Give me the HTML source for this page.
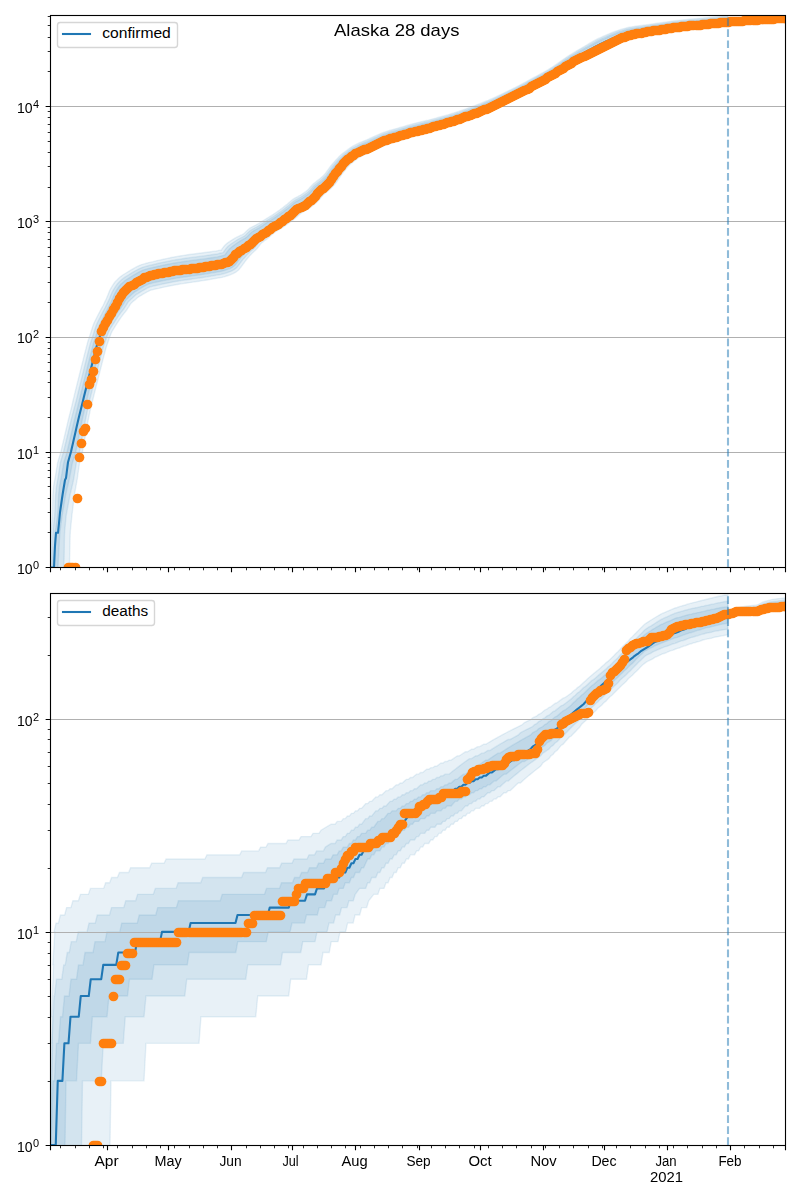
<!DOCTYPE html>
<html lang="en"><head><meta charset="utf-8"><title>Alaska 28 days</title>
<style>html,body{margin:0;padding:0;background:#fff}body{width:800px;height:1200px;overflow:hidden}svg{display:block}text{font-family:"Liberation Sans",sans-serif;fill:#000}</style></head><body>
<svg width="800" height="1200" viewBox="0 0 800 1200">
<defs><filter id="gs" x="0" y="0" width="800" height="1200" filterUnits="userSpaceOnUse" color-interpolation-filters="sRGB"><feColorMatrix type="saturate" values="0"/></filter><clipPath id="c1"><rect x="50" y="15" width="735" height="552"/></clipPath><clipPath id="c2"><rect x="50" y="593" width="735" height="552"/></clipPath></defs>
<rect width="800" height="1200" fill="#fff"/>
<path d="M50.5,585 L51.04,567 L51.04,563 L51.05,559 L51.05,555 L51.05,551 L51.06,547 L51.06,543 L51.07,539 L51.07,535 L51.21,531 L51.52,527 L51.83,523 L52.14,519 L52.46,515 L52.57,511 L52.65,507 L52.73,503 L52.81,499 L52.88,495 L53.19,491 L53.5,487 L54.1,483 L54.93,479 L55.59,475 L56.24,471 L56.9,467 L57.56,463 L58.69,459 L59.92,455 L61.05,451 L61.99,447 L62.92,443 L63.86,439 L64.8,435 L65.73,431 L66.67,427 L67.61,423 L68.55,419 L69.57,415 L70.6,411 L71.62,407 L73.24,399.75 L73.71,397.82 L74.18,395.88 L74.65,393.93 L75.13,391.98 L75.6,390.03 L76.09,388.08 L76.57,386.13 L77.05,384.19 L77.54,382.24 L78.02,380.3 L78.5,378.36 L78.98,376.42 L79.47,374.48 L79.95,372.54 L80.43,370.59 L80.92,368.65 L81.4,366.71 L81.88,364.76 L82.37,362.82 L82.86,360.88 L83.34,358.93 L83.83,356.99 L84.32,355.04 L84.81,353.08 L85.31,351.13 L85.82,349.17 L86.33,347.17 L86.86,345.15 L87.39,343.1 L88,341.05 L88.67,339.05 L89.32,337.08 L89.96,335.13 L90.6,333.21 L91.22,331.25 L91.86,329.23 L92.53,327.12 L93.28,324.97 L94.14,322.8 L95.12,320.72 L96.14,318.72 L97.12,316.8 L98.08,314.93 L99.04,313.1 L99.99,311.27 L100.95,309.42 L101.97,307.6 L102.98,305.79 L103.85,303.94 L104.69,302.12 L105.53,300.41 L106.31,298.75 L107.01,296.99 L107.77,295.14 L108.56,293.14 L109.47,290.95 L110.67,288.71 L111.98,286.46 L113.38,284.23 L114.92,282.05 L116.74,280.13 L118.64,278.3 L120.64,276.57 L122.72,275.02 L124.82,273.76 L126.79,272.53 L128.68,271.32 L130.57,270.19 L132.53,269.07 L134.61,267.92 L136.8,266.73 L139.11,265.58 L141.56,264.6 L144.03,263.89 L146.4,263.23 L148.67,262.61 L150.87,262.14 L152.99,261.66 L155.07,261.13 L157.14,260.6 L159.19,260.14 L161.22,259.7 L163.23,259.27 L165.22,258.83 L167.22,258.4 L169.25,257.96 L171.31,257.52 L173.39,257.11 L175.48,256.74 L177.54,256.4 L179.58,256.06 L181.57,255.73 L183.55,255.4 L185.52,255.07 L187.48,254.74 L189.46,254.47 L191.43,254.23 L193.42,253.99 L195.39,253.76 L197.36,253.52 L199.31,253.29 L201.24,253.06 L203.16,252.81 L205.07,252.54 L207,252.26 L208.94,251.98 L210.87,251.7 L212.72,251.43 L214.49,251.17 L216.17,250.94 L217.67,250.66 L218.96,250.34 L219.97,250.15 L220.69,250.15 L221.13,250.19 L221.48,249.94 L221.82,249.19 L222.62,248.06 L223.8,246.53 L225.36,244.77 L227.31,243.12 L229.41,241.69 L231.45,240.36 L233.41,239.1 L235.35,237.92 L237.26,236.9 L239.08,236.02 L240.76,235.24 L242.35,234.54 L243.77,233.71 L245.05,232.43 L246.53,230.98 L248.24,229.43 L250.21,227.94 L252.35,226.8 L254.35,225.78 L256.19,224.86 L257.87,223.96 L259.47,222.99 L261.11,221.95 L262.82,220.86 L264.6,219.72 L266.42,218.57 L268.23,217.47 L269.98,216.41 L271.68,215.38 L273.31,214.35 L274.88,213.29 L276.44,212.2 L278,211.12 L279.56,210.03 L281.1,208.9 L282.61,207.74 L284.11,206.58 L285.61,205.42 L287.13,204.22 L288.67,202.89 L290.28,201.47 L292,200.01 L293.86,198.65 L295.85,197.62 L297.69,196.64 L299.42,195.74 L300.99,194.82 L302.43,193.87 L303.84,192.89 L305.22,191.94 L306.52,190.9 L307.77,189.73 L309.03,188.43 L310.34,186.96 L311.75,185.38 L313.31,183.8 L315.06,182.44 L316.76,181.14 L318.37,179.92 L319.86,178.74 L321.22,177.59 L322.49,176.42 L323.75,175.28 L324.91,174.08 L325.91,172.66 L326.99,171.16 L328.12,169.59 L329.31,167.93 L330.56,166.21 L331.94,164.57 L333.33,162.95 L334.73,161.34 L336.17,159.76 L337.64,158.18 L339.16,156.58 L340.78,155.06 L342.47,153.61 L344.21,152.25 L345.98,150.94 L347.74,149.64 L349.5,148.34 L351.33,147.1 L353.25,145.96 L355.22,144.94 L357.17,143.94 L359.1,142.96 L361.06,142.14 L362.97,141.36 L364.84,140.61 L366.66,139.87 L368.43,139.09 L370.2,138.25 L372,137.4 L373.83,136.55 L375.69,135.7 L377.61,134.88 L379.53,134.06 L381.48,133.24 L383.46,132.48 L385.47,131.81 L387.47,131.15 L389.47,130.49 L391.46,129.91 L393.43,129.37 L395.38,128.84 L397.3,128.31 L399.2,127.77 L401.1,127.21 L403.01,126.64 L404.93,126.08 L406.87,125.51 L408.82,124.96 L410.78,124.41 L412.75,123.86 L414.73,123.34 L416.71,122.85 L418.68,122.36 L420.65,121.87 L422.61,121.42 L424.55,120.96 L426.49,120.51 L428.41,120.07 L430.31,119.57 L432.21,119.07 L434.13,118.56 L436.04,118.06 L437.96,117.54 L439.88,117.03 L441.79,116.51 L443.69,115.99 L445.59,115.44 L447.48,114.9 L449.37,114.35 L451.25,113.78 L453.13,113.19 L455,112.6 L456.87,112.01 L458.73,111.41 L460.58,110.76 L462.44,110.12 L464.29,109.47 L466.14,108.81 L467.99,108.11 L469.85,107.41 L471.71,106.71 L473.58,106.01 L475.44,105.31 L477.3,104.62 L479.15,103.92 L480.99,103.21 L482.82,102.47 L484.64,101.74 L486.46,101.01 L488.27,100.27 L490.06,99.48 L491.86,98.68 L493.65,97.89 L495.44,97.08 L497.23,96.24 L499.01,95.39 L500.8,94.53 L502.59,93.67 L504.38,92.81 L506.18,91.94 L507.96,91.07 L509.75,90.2 L511.53,89.31 L513.3,88.43 L515.07,87.55 L516.84,86.67 L518.59,85.76 L520.33,84.83 L522.07,83.91 L523.82,82.98 L525.57,82.04 L527.31,81.08 L529.05,80.11 L530.81,79.14 L532.57,78.18 L534.34,77.22 L536.1,76.28 L537.87,75.33 L539.62,74.39 L541.36,73.44 L543.09,72.49 L544.81,71.55 L546.51,70.62 L548.18,69.64 L549.81,68.6 L551.44,67.55 L553.09,66.5 L554.74,65.43 L556.37,64.33 L558,63.19 L559.62,62.01 L561.25,60.81 L562.92,59.63 L564.61,58.47 L566.31,57.3 L568.04,56.17 L569.79,55.09 L571.53,54.02 L573.27,52.96 L574.99,51.9 L576.73,50.87 L578.46,49.83 L580.19,48.8 L581.93,47.78 L583.67,46.76 L585.41,45.75 L587.15,44.73 L588.89,43.72 L590.64,42.72 L592.41,41.71 L594.19,40.71 L595.98,39.69 L597.81,38.72 L599.7,37.88 L601.58,37.05 L603.45,36.23 L605.31,35.41 L607.17,34.61 L609.06,33.81 L610.96,33 L612.89,32.21 L614.85,31.49 L616.84,30.79 L618.82,30.1 L620.83,29.44 L622.87,28.87 L624.92,28.33 L626.98,27.79 L629.05,27.28 L631.14,26.95 L633.22,26.62 L635.28,26.3 L637.32,26.01 L639.34,25.77 L641.34,25.54 L643.32,25.31 L645.29,25.04 L647.25,24.73 L649.22,24.42 L651.2,24.11 L653.18,23.82 L655.17,23.52 L657.17,23.22 L659.16,22.93 L661.16,22.66 L663.15,22.4 L665.14,22.13 L667.12,21.87 L669.1,21.59 L671.1,21.31 L673.1,21.03 L675.1,20.78 L677.11,20.55 L679.12,20.32 L681.12,20.09 L683.12,19.87 L685.12,19.65 L687.12,19.43 L689.14,19.22 L691.15,19 L693.17,18.83 L695.17,18.67 L697.17,18.51 L699.15,18.35 L701.13,18.16 L703.11,17.96 L705.1,17.77 L707.1,17.57 L709.09,17.4 L711.08,17.22 L713.07,17.05 L715.04,16.87 L717.02,16.66 L719.01,16.45 L721,16.24 L723,16.04 L725,15.86 L727,15.67 L728,15.67 L728,25.63 L727.95,25.63 L725.97,25.82 L723.99,26 L722.01,26.2 L720.02,26.42 L718.03,26.64 L716.03,26.85 L714.02,27.04 L712.02,27.22 L710.03,27.4 L708.04,27.58 L706.05,27.77 L704.06,27.98 L702.06,28.18 L700.06,28.38 L698.06,28.54 L696.07,28.71 L694.09,28.87 L692.12,29.04 L690.16,29.26 L688.19,29.47 L686.22,29.69 L684.24,29.91 L682.27,30.14 L680.29,30.37 L678.33,30.59 L676.36,30.82 L674.4,31.08 L672.44,31.36 L670.47,31.64 L668.5,31.92 L666.52,32.19 L664.54,32.46 L662.56,32.72 L660.6,32.99 L658.64,33.29 L656.67,33.58 L654.71,33.88 L652.74,34.18 L650.77,34.49 L648.78,34.81 L646.79,35.13 L644.8,35.44 L642.83,35.75 L640.86,36.06 L638.92,36.36 L637.01,36.71 L635.13,37.08 L633.26,37.45 L631.42,37.81 L629.63,38.33 L627.84,38.88 L626.04,39.43 L624.25,40 L622.48,40.66 L620.71,41.35 L618.94,42.05 L617.18,42.77 L615.44,43.56 L613.68,44.38 L611.92,45.22 L610.14,46.06 L608.37,46.91 L606.6,47.77 L604.85,48.62 L603.11,49.46 L601.38,50.32 L599.65,51.18 L597.9,52.06 L596.14,52.94 L594.37,53.83 L592.6,54.74 L590.83,55.65 L589.06,56.55 L587.3,57.47 L585.54,58.39 L583.78,59.31 L582.02,60.23 L580.27,61.16 L578.53,62.1 L576.8,63.04 L575.08,63.98 L573.38,64.91 L571.71,65.89 L570.06,66.9 L568.4,67.92 L566.75,68.97 L565.1,70.06 L563.43,71.16 L561.76,72.29 L560.09,73.44 L558.4,74.57 L556.68,75.69 L554.96,76.82 L553.23,77.95 L551.46,79.01 L549.67,80.02 L547.89,81.03 L546.12,82.02 L544.37,83.01 L542.61,83.98 L540.85,84.95 L539.11,85.91 L537.37,86.88 L535.63,87.85 L533.89,88.84 L532.15,89.83 L530.4,90.82 L528.64,91.8 L526.86,92.77 L525.09,93.74 L523.31,94.71 L521.52,95.67 L519.71,96.59 L517.92,97.52 L516.12,98.44 L514.33,99.36 L512.53,100.26 L510.73,101.16 L508.93,102.06 L507.14,102.96 L505.33,103.85 L503.52,104.74 L501.71,105.64 L499.89,106.54 L498.05,107.4 L496.2,108.26 L494.35,109.12 L492.5,109.98 L490.63,110.79 L488.75,111.58 L486.87,112.38 L485,113.17 L483.13,113.94 L481.25,114.69 L479.37,115.43 L477.51,116.17 L475.64,116.91 L473.77,117.65 L471.9,118.4 L470.02,119.14 L468.12,119.86 L466.21,120.57 L464.3,121.28 L462.38,121.99 L460.45,122.65 L458.52,123.3 L456.59,123.95 L454.66,124.6 L452.73,125.22 L450.79,125.82 L448.85,126.43 L446.91,127.02 L444.96,127.6 L443.02,128.16 L441.09,128.72 L439.15,129.28 L437.21,129.84 L435.27,130.39 L433.31,130.94 L431.36,131.49 L429.39,131.99 L427.44,132.49 L425.49,132.98 L423.57,133.47 L421.66,133.98 L419.76,134.49 L417.87,135 L415.99,135.53 L414.11,136.09 L412.23,136.66 L410.35,137.24 L408.46,137.82 L406.55,138.43 L404.64,139.03 L402.71,139.64 L400.77,140.23 L398.85,140.78 L396.94,141.33 L395.06,141.86 L393.22,142.42 L391.42,143.04 L389.63,143.64 L387.86,144.26 L386.11,144.95 L384.38,145.71 L382.63,146.48 L380.87,147.25 L379.11,148.08 L377.32,148.94 L375.51,149.82 L373.67,150.71 L371.8,151.56 L369.92,152.35 L368.09,153.11 L366.3,153.86 L364.57,154.59 L362.96,155.45 L361.36,156.29 L359.77,157.12 L358.26,158.03 L356.8,159.06 L355.36,160.15 L353.92,161.24 L352.51,162.38 L351.15,163.54 L349.86,164.75 L348.62,166.02 L347.45,167.39 L346.25,168.79 L345.05,170.2 L343.88,171.66 L342.72,173.13 L341.57,174.59 L340.53,176.15 L339.44,177.78 L338.3,179.49 L337.09,181.27 L335.81,183.14 L334.29,184.88 L332.67,186.53 L331.07,188.14 L329.45,189.65 L327.86,191.03 L326.34,192.3 L324.91,193.49 L323.53,194.62 L322.36,195.94 L321.18,197.41 L319.88,198.98 L318.42,200.59 L316.81,202.23 L315.06,203.77 L313.23,205.2 L311.42,206.6 L309.58,207.94 L307.76,209.14 L306,210.19 L304.35,211.17 L302.77,211.94 L301.42,212.95 L300.11,214.09 L298.73,215.33 L297.25,216.62 L295.62,217.9 L293.96,219.18 L292.3,220.47 L290.64,221.75 L288.95,222.98 L287.24,224.18 L285.51,225.38 L283.78,226.58 L282.04,227.76 L280.29,228.86 L278.56,229.91 L276.9,230.92 L275.28,231.89 L273.81,232.99 L272.39,234.27 L270.91,235.59 L269.36,236.96 L267.73,238.34 L266.07,239.64 L264.49,240.79 L263.06,241.84 L261.78,242.76 L260.72,243.89 L259.67,245.22 L258.49,246.76 L257.12,248.48 L255.49,250.19 L253.81,251.8 L252.23,253.33 L250.77,254.76 L249.48,256.11 L248.32,257.47 L247.23,258.79 L246.21,260.05 L245.26,261.21 L244.44,262.44 L243.42,263.73 L242.22,265.41 L240.64,267.5 L238.6,269.95 L235.81,272.18 L232.65,273.86 L229.55,275.05 L226.73,276 L224.18,276.8 L221.78,277.39 L219.51,277.8 L217.34,278.18 L215.24,278.55 L213.21,278.91 L211.21,279.26 L209.19,279.62 L207.15,279.97 L205.11,280.29 L203.07,280.59 L201.06,280.89 L199.06,281.19 L197.07,281.49 L195.09,281.79 L193.11,282.09 L191.12,282.39 L189.13,282.68 L187.15,282.98 L185.17,283.28 L183.22,283.57 L181.3,283.86 L179.42,284.15 L177.57,284.44 L175.74,284.78 L173.88,285.15 L172,285.53 L170.08,285.92 L168.17,286.3 L166.26,286.68 L164.39,287.06 L162.54,287.44 L160.75,287.88 L158.97,288.31 L157.2,288.67 L155.52,288.99 L153.98,289.38 L152.54,289.73 L151.22,290.01 L150.02,290.45 L148.83,291.06 L147.55,291.74 L146.16,292.48 L144.65,293.32 L143.13,294.22 L141.65,295.14 L140.24,295.98 L138.88,296.69 L137.77,297.48 L136.78,298.33 L135.82,299.24 L134.79,300.09 L133.72,300.89 L132.69,301.81 L131.67,302.78 L130.67,303.83 L129.81,305.21 L128.83,306.79 L127.71,308.47 L126.54,310.26 L125.2,312 L123.86,313.64 L122.63,315.25 L121.43,316.82 L120.33,318.41 L119.24,319.98 L118.21,321.6 L117.16,323.23 L116.12,324.87 L115.09,326.47 L114.11,328.03 L113.15,329.52 L112.28,330.98 L111.55,332.49 L110.88,334.07 L110.25,335.75 L109.58,337.51 L108.9,339.34 L108.27,341.21 L107.64,343.06 L107.03,344.88 L106.42,346.67 L105.88,348.46 L105.4,350.28 L104.91,352.13 L104.42,354.01 L103.92,355.92 L103.42,357.84 L102.92,359.77 L102.43,361.69 L101.94,363.63 L101.45,365.56 L100.96,367.49 L100.46,369.43 L99.97,371.36 L99.48,373.3 L98.99,375.24 L98.5,377.18 L98.01,379.11 L97.52,381.05 L97.03,382.99 L96.54,384.93 L96.05,386.87 L95.56,388.81 L95.07,390.74 L94.58,392.67 L94.1,394.6 L93.62,396.54 L93.14,398.47 L92.66,400.41 L92.18,402.35 L91.69,404.3 L90.88,407 L90.06,411 L89.24,415 L88.42,419 L87.69,423 L86.97,427 L86.24,431 L85.51,435 L84.78,439 L84.05,443 L83.32,447 L82.59,451 L81.67,455 L80.54,459 L79.51,463 L78.95,467 L78.39,471 L77.84,475 L77.28,479 L76.55,483 L75.8,487 L75.09,491 L74.38,495 L73.91,499 L73.43,503 L72.95,507 L72.47,511 L71.96,515 L71.56,519 L71.16,523 L70.77,527 L70.37,531 L70.15,535 L70.06,539 L69.97,543 L69.88,547 L69.79,551 L69.7,555 L69.62,559 L69.53,563 L69.44,567 L70.5,585Z" fill="#1f77b4" fill-opacity=".1" stroke="#1f77b4" stroke-opacity=".1" stroke-width="1.39" stroke-linejoin="miter" clip-path="url(#c1)"/>
<path d="M51.4,585 L51.94,567 L52.05,563 L52.16,559 L52.26,555 L52.37,551 L52.48,547 L52.58,543 L52.69,539 L52.8,535 L53.05,531 L53.46,527 L53.88,523 L54.29,519 L54.71,515 L54.92,511 L55.1,507 L55.28,503 L55.46,499 L55.63,495 L56.04,491 L56.45,487 L57.07,483 L57.86,479 L58.47,475 L59.08,471 L59.69,467 L60.3,463 L61.38,459 L62.57,455 L63.72,451 L64.68,447 L65.63,443 L66.59,439 L67.55,435 L68.5,431 L69.46,427 L70.42,423 L71.38,419 L72.42,415 L73.47,411 L74.51,407 L76.24,400.5 L76.71,398.56 L77.18,396.61 L77.65,394.67 L78.12,392.72 L78.59,390.77 L79.07,388.82 L79.55,386.87 L80.03,384.93 L80.51,382.98 L80.98,381.04 L81.46,379.1 L81.94,377.16 L82.42,375.22 L82.9,373.27 L83.37,371.33 L83.85,369.39 L84.33,367.44 L84.81,365.5 L85.29,363.56 L85.78,361.61 L86.26,359.67 L86.74,357.72 L87.22,355.77 L87.71,353.83 L88.21,351.88 L88.7,349.92 L89.21,347.94 L89.72,345.94 L90.24,343.93 L90.84,341.92 L91.49,339.95 L92.13,337.99 L92.76,336.06 L93.39,334.14 L94,332.2 L94.62,330.2 L95.26,328.16 L95.98,326.08 L96.79,324 L97.73,321.99 L98.7,320.05 L99.65,318.16 L100.59,316.31 L101.52,314.49 L102.46,312.67 L103.4,310.83 L104.39,309.03 L105.38,307.22 L106.26,305.39 L107.13,303.59 L108,301.87 L108.83,300.18 L109.56,298.41 L110.34,296.56 L111.12,294.6 L112,292.49 L113.15,290.37 L114.39,288.25 L115.72,286.14 L117.16,284.08 L118.88,282.28 L120.67,280.54 L122.55,278.9 L124.51,277.43 L126.52,276.22 L128.43,275.02 L130.27,273.84 L132.11,272.71 L134.01,271.62 L136.01,270.51 L138.1,269.37 L140.29,268.26 L142.6,267.34 L144.94,266.66 L147.21,266.02 L149.4,265.42 L151.54,264.96 L153.62,264.49 L155.68,263.99 L157.72,263.48 L159.75,263.04 L161.77,262.62 L163.77,262.21 L165.75,261.79 L167.75,261.38 L169.76,260.96 L171.8,260.53 L173.86,260.14 L175.92,259.8 L177.97,259.48 L179.99,259.16 L181.98,258.84 L183.96,258.53 L185.93,258.21 L187.9,257.9 L189.87,257.63 L191.85,257.39 L193.84,257.15 L195.81,256.9 L197.78,256.66 L199.74,256.42 L201.68,256.18 L203.62,255.93 L205.54,255.65 L207.48,255.36 L209.43,255.07 L211.37,254.78 L213.25,254.5 L215.07,254.23 L216.82,253.99 L218.42,253.67 L219.85,253.29 L221.07,253.02 L222.07,252.88 L222.82,252.72 L223.45,252.24 L223.99,251.29 L224.87,250.05 L226.06,248.51 L227.56,246.8 L229.37,245.2 L231.35,243.8 L233.26,242.48 L235.12,241.22 L236.97,240.01 L238.82,238.95 L240.59,238.01 L242.26,237.14 L243.86,236.34 L245.31,235.41 L246.6,234.08 L248.04,232.62 L249.68,231.09 L251.54,229.65 L253.58,228.53 L255.52,227.5 L257.33,226.56 L259,225.61 L260.61,224.6 L262.24,223.52 L263.92,222.4 L265.66,221.24 L267.44,220.1 L269.23,219.02 L270.97,217.96 L272.67,216.93 L274.31,215.9 L275.9,214.81 L277.48,213.72 L279.06,212.62 L280.64,211.52 L282.2,210.38 L283.72,209.2 L285.24,208.03 L286.76,206.85 L288.3,205.65 L289.83,204.32 L291.41,202.92 L293.09,201.5 L294.89,200.18 L296.82,199.18 L298.65,198.2 L300.38,197.28 L301.98,196.33 L303.46,195.33 L304.92,194.31 L306.35,193.3 L307.71,192.2 L308.99,190.98 L310.28,189.64 L311.59,188.16 L312.97,186.59 L314.48,185.04 L316.2,183.71 L317.86,182.43 L319.46,181.2 L320.96,180 L322.35,178.81 L323.66,177.58 L324.96,176.38 L326.16,175.12 L327.2,173.65 L328.29,172.12 L329.42,170.53 L330.6,168.87 L331.83,167.17 L333.18,165.56 L334.54,163.95 L335.91,162.36 L337.33,160.8 L338.77,159.24 L340.25,157.67 L341.82,156.17 L343.47,154.75 L345.16,153.41 L346.89,152.13 L348.61,150.85 L350.34,149.58 L352.13,148.36 L354,147.24 L355.93,146.25 L357.84,145.27 L359.73,144.29 L361.66,143.49 L363.56,142.72 L365.42,141.96 L367.25,141.22 L369.03,140.42 L370.81,139.58 L372.61,138.73 L374.43,137.87 L376.29,137.03 L378.19,136.22 L380.09,135.4 L382.01,134.59 L383.96,133.84 L385.95,133.17 L387.93,132.51 L389.9,131.87 L391.88,131.29 L393.84,130.75 L395.78,130.21 L397.7,129.68 L399.6,129.14 L401.51,128.57 L403.42,128 L405.34,127.43 L407.27,126.86 L409.21,126.31 L411.16,125.75 L413.12,125.2 L415.09,124.68 L417.06,124.19 L419.03,123.7 L420.99,123.21 L422.94,122.75 L424.89,122.29 L426.82,121.83 L428.74,121.38 L430.65,120.88 L432.57,120.37 L434.48,119.86 L436.4,119.35 L438.32,118.83 L440.24,118.31 L442.15,117.79 L444.06,117.25 L445.96,116.71 L447.86,116.15 L449.76,115.6 L451.64,115.03 L453.52,114.43 L455.4,113.83 L457.28,113.24 L459.15,112.63 L461.01,111.97 L462.87,111.32 L464.73,110.66 L466.59,110 L468.44,109.29 L470.3,108.59 L472.17,107.89 L474.03,107.18 L475.9,106.48 L477.76,105.77 L479.61,105.07 L481.45,104.35 L483.28,103.61 L485.11,102.87 L486.94,102.14 L488.76,101.39 L490.56,100.59 L492.36,99.78 L494.16,98.98 L495.96,98.17 L497.74,97.32 L499.53,96.47 L501.32,95.6 L503.11,94.74 L504.91,93.87 L506.7,93 L508.49,92.12 L510.28,91.25 L512.06,90.36 L513.83,89.47 L515.61,88.59 L517.38,87.7 L519.13,86.79 L520.88,85.86 L522.62,84.93 L524.37,83.99 L526.12,83.05 L527.86,82.08 L529.61,81.11 L531.36,80.14 L533.12,79.18 L534.89,78.22 L536.65,77.27 L538.41,76.33 L540.17,75.38 L541.91,74.42 L543.64,73.47 L545.37,72.52 L547.08,71.58 L548.76,70.6 L550.4,69.54 L552.05,68.49 L553.7,67.43 L555.35,66.35 L556.99,65.25 L558.62,64.1 L560.25,62.93 L561.88,61.75 L563.55,60.59 L565.24,59.44 L566.93,58.29 L568.66,57.17 L570.4,56.11 L572.14,55.06 L573.87,54.01 L575.6,52.97 L577.34,51.94 L579.07,50.92 L580.81,49.91 L582.55,48.89 L584.29,47.88 L586.03,46.88 L587.77,45.88 L589.52,44.88 L591.27,43.89 L593.04,42.9 L594.82,41.91 L596.6,40.91 L598.42,39.95 L600.29,39.11 L602.16,38.28 L604.01,37.46 L605.86,36.64 L607.72,35.83 L609.59,35.02 L611.47,34.21 L613.38,33.43 L615.32,32.7 L617.28,32.01 L619.24,31.32 L621.22,30.66 L623.23,30.09 L625.25,29.54 L627.28,29 L629.32,28.49 L631.39,28.15 L633.44,27.82 L635.48,27.5 L637.5,27.2 L639.51,26.96 L641.51,26.72 L643.49,26.48 L645.46,26.2 L647.43,25.89 L649.4,25.58 L651.37,25.27 L653.36,24.98 L655.35,24.68 L657.34,24.38 L659.33,24.08 L661.32,23.82 L663.31,23.55 L665.3,23.29 L667.28,23.02 L669.26,22.75 L671.25,22.47 L673.25,22.19 L675.25,21.93 L677.25,21.7 L679.26,21.48 L681.25,21.25 L683.25,21.02 L685.25,20.8 L687.25,20.59 L689.25,20.37 L691.26,20.16 L693.27,19.98 L695.28,19.82 L697.27,19.66 L699.26,19.5 L701.24,19.31 L703.22,19.11 L705.21,18.92 L707.21,18.72 L709.2,18.55 L711.19,18.37 L713.18,18.2 L715.16,18.02 L717.14,17.81 L719.12,17.6 L721.11,17.38 L723.11,17.19 L725.11,17 L727.11,16.82 L728,16.82 L728,24.48 L727.84,24.48 L725.86,24.67 L723.87,24.86 L721.89,25.05 L719.9,25.27 L717.91,25.49 L715.91,25.7 L713.91,25.89 L711.91,26.07 L709.92,26.25 L707.93,26.43 L705.94,26.62 L703.95,26.83 L701.96,27.03 L699.96,27.22 L697.96,27.39 L695.96,27.55 L693.98,27.72 L692.01,27.89 L690.04,28.1 L688.07,28.32 L686.09,28.54 L684.11,28.76 L682.13,28.99 L680.16,29.21 L678.19,29.44 L676.22,29.67 L674.25,29.92 L672.29,30.2 L670.32,30.48 L668.34,30.76 L666.36,31.03 L664.38,31.3 L662.4,31.56 L660.43,31.83 L658.47,32.13 L656.5,32.43 L654.53,32.72 L652.56,33.02 L650.59,33.34 L648.61,33.65 L646.62,33.97 L644.63,34.28 L642.65,34.58 L640.69,34.87 L638.73,35.17 L636.81,35.51 L634.91,35.88 L633.02,36.24 L631.15,36.59 L629.33,37.12 L627.5,37.67 L625.68,38.21 L623.86,38.79 L622.06,39.45 L620.27,40.14 L618.47,40.83 L616.69,41.56 L614.92,42.34 L613.15,43.17 L611.37,44 L609.58,44.83 L607.8,45.68 L606.02,46.54 L604.26,47.38 L602.5,48.22 L600.76,49.09 L599.02,49.98 L597.27,50.87 L595.5,51.76 L593.74,52.67 L591.97,53.59 L590.21,54.51 L588.44,55.43 L586.68,56.35 L584.92,57.29 L583.17,58.22 L581.41,59.16 L579.66,60.1 L577.93,61.05 L576.2,62.01 L574.48,62.96 L572.76,63.91 L571.09,64.9 L569.43,65.93 L567.77,66.97 L566.12,68.03 L564.47,69.13 L562.8,70.24 L561.14,71.38 L559.48,72.52 L557.79,73.64 L556.08,74.76 L554.37,75.87 L552.65,76.99 L550.89,78.05 L549.11,79.05 L547.34,80.04 L545.57,81.04 L543.82,82.02 L542.06,82.99 L540.31,83.95 L538.56,84.91 L536.81,85.88 L535.08,86.85 L533.34,87.83 L531.6,88.82 L529.85,89.81 L528.08,90.78 L526.31,91.75 L524.54,92.72 L522.77,93.68 L520.98,94.63 L519.18,95.55 L517.39,96.47 L515.59,97.39 L513.8,98.31 L512,99.2 L510.21,100.1 L508.41,100.99 L506.61,101.89 L504.81,102.78 L503.01,103.67 L501.2,104.56 L499.38,105.45 L497.55,106.31 L495.7,107.16 L493.86,108.01 L492.01,108.86 L490.15,109.67 L488.28,110.45 L486.41,111.24 L484.54,112.02 L482.67,112.79 L480.79,113.53 L478.92,114.26 L477.06,115 L475.19,115.74 L473.32,116.47 L471.45,117.21 L469.57,117.95 L467.68,118.67 L465.78,119.37 L463.87,120.07 L461.96,120.77 L460.04,121.43 L458.12,122.07 L456.19,122.71 L454.27,123.35 L452.34,123.97 L450.41,124.57 L448.47,125.16 L446.54,125.75 L444.6,126.32 L442.66,126.88 L440.73,127.44 L438.79,127.99 L436.86,128.54 L434.92,129.09 L432.97,129.63 L431.02,130.18 L429.06,130.67 L427.1,131.16 L425.16,131.65 L423.23,132.14 L421.32,132.64 L419.41,133.15 L417.51,133.65 L415.62,134.19 L413.73,134.75 L411.84,135.32 L409.95,135.89 L408.05,136.47 L406.14,137.07 L404.23,137.67 L402.31,138.28 L400.37,138.86 L398.45,139.41 L396.54,139.95 L394.64,140.49 L392.79,141.05 L390.96,141.67 L389.15,142.28 L387.35,142.91 L385.58,143.6 L383.82,144.37 L382.05,145.15 L380.28,145.92 L378.5,146.75 L376.71,147.61 L374.9,148.49 L373.07,149.37 L371.21,150.22 L369.34,151 L367.5,151.76 L365.7,152.51 L363.94,153.25 L362.29,154.13 L360.65,154.99 L359.02,155.83 L357.47,156.77 L355.96,157.83 L354.49,158.94 L353,160.06 L351.56,161.21 L350.15,162.4 L348.82,163.64 L347.53,164.94 L346.32,166.33 L345.09,167.75 L343.86,169.19 L342.67,170.66 L341.48,172.14 L340.31,173.63 L339.24,175.2 L338.14,176.84 L337,178.53 L335.8,180.28 L334.56,182.1 L333.07,183.78 L331.5,185.36 L329.94,186.92 L328.34,188.39 L326.77,189.75 L325.24,191.01 L323.77,192.22 L322.36,193.38 L321.14,194.73 L319.93,196.21 L318.63,197.77 L317.2,199.35 L315.63,200.92 L313.93,202.41 L312.15,203.79 L310.39,205.14 L308.6,206.43 L306.8,207.6 L305.04,208.63 L303.38,209.61 L301.74,210.41 L300.34,211.46 L298.98,212.64 L297.57,213.9 L296.09,215.19 L294.47,216.46 L292.83,217.73 L291.18,219.01 L289.54,220.27 L287.87,221.49 L286.17,222.68 L284.47,223.86 L282.76,225.05 L281.04,226.22 L279.3,227.31 L277.58,228.36 L275.9,229.37 L274.26,230.36 L272.75,231.47 L271.29,232.73 L269.79,234.02 L268.23,235.35 L266.6,236.69 L264.93,237.94 L263.32,239.07 L261.83,240.11 L260.45,241.06 L259.29,242.23 L258.16,243.58 L256.95,245.11 L255.59,246.78 L253.98,248.39 L252.31,249.9 L250.71,251.34 L249.22,252.7 L247.85,254.02 L246.61,255.35 L245.41,256.67 L244.28,257.94 L243.19,259.13 L242.25,260.41 L241.16,261.75 L239.96,263.41 L238.47,265.39 L236.63,267.65 L234.12,269.65 L231.27,271.14 L228.45,272.19 L225.83,273.05 L223.43,273.79 L221.14,274.35 L218.93,274.73 L216.81,275.1 L214.74,275.46 L212.72,275.81 L210.72,276.15 L208.71,276.5 L206.69,276.84 L204.66,277.15 L202.64,277.45 L200.63,277.74 L198.64,278.03 L196.65,278.32 L194.67,278.61 L192.68,278.9 L190.7,279.19 L188.71,279.48 L186.73,279.77 L184.75,280.06 L182.79,280.34 L180.86,280.62 L178.95,280.9 L177.07,281.19 L175.21,281.52 L173.33,281.89 L171.42,282.27 L169.5,282.65 L167.57,283.02 L165.65,283.4 L163.75,283.77 L161.88,284.15 L160.05,284.58 L158.23,285.01 L156.42,285.39 L154.68,285.74 L153.05,286.16 L151.5,286.56 L150.04,286.9 L148.68,287.41 L147.36,288.1 L145.98,288.85 L144.51,289.65 L142.95,290.52 L141.39,291.47 L139.87,292.43 L138.4,293.33 L136.96,294.12 L135.74,295 L134.63,295.97 L133.57,296.99 L132.44,297.96 L131.28,298.9 L130.17,299.94 L129.08,301.05 L128.02,302.22 L127.13,303.69 L126.14,305.3 L125.04,306.99 L123.9,308.76 L122.61,310.47 L121.31,312.11 L120.1,313.73 L118.92,315.32 L117.81,316.92 L116.71,318.52 L115.67,320.16 L114.62,321.81 L113.57,323.46 L112.53,325.09 L111.53,326.69 L110.56,328.25 L109.65,329.79 L108.89,331.39 L108.2,333.06 L107.55,334.79 L106.88,336.59 L106.2,338.43 L105.56,340.31 L104.93,342.17 L104.3,344.01 L103.68,345.84 L103.12,347.66 L102.63,349.51 L102.13,351.39 L101.63,353.28 L101.12,355.2 L100.62,357.13 L100.12,359.05 L99.62,360.98 L99.13,362.92 L98.63,364.85 L98.13,366.78 L97.64,368.72 L97.14,370.66 L96.65,372.59 L96.16,374.53 L95.66,376.47 L95.17,378.4 L94.68,380.34 L94.18,382.28 L93.69,384.22 L93.2,386.16 L92.7,388.09 L92.21,390.03 L91.72,391.96 L91.23,393.89 L90.74,395.83 L90.26,397.76 L89.78,399.7 L89.3,401.65 L88.81,403.59 L88.12,407 L87.28,411 L86.44,415 L85.6,419 L84.85,423 L84.11,427 L83.36,431 L82.61,435 L81.86,439 L81.11,443 L80.36,447 L79.61,451 L78.67,455 L77.44,459 L76.31,463 L75.65,467 L74.99,471 L74.34,475 L73.68,479 L72.85,483 L71.91,487 L70.94,491 L69.97,495 L69.22,499 L68.48,503 L67.73,507 L66.99,511 L66.21,515 L65.83,519 L65.45,523 L65.08,527 L64.7,531 L64.49,535 L64.42,539 L64.35,543 L64.28,547 L64.22,551 L64.15,555 L64.08,559 L64.01,563 L63.94,567 L64.5,585Z" fill="#1f77b4" fill-opacity=".1" stroke="#1f77b4" stroke-opacity=".1" stroke-width="1.39" stroke-linejoin="miter" clip-path="url(#c1)"/>
<path d="M52.4,585 L52.94,567 L53.2,563 L53.46,559 L53.72,555 L53.99,551 L54.25,547 L54.51,543 L54.77,539 L55.03,535 L55.43,531 L56,527 L56.57,523 L57.14,519 L57.71,515 L57.92,511 L58.1,507 L58.28,503 L58.46,499 L58.63,495 L59.04,491 L59.45,487 L60.11,483 L60.98,479 L61.67,475 L62.36,471 L63.05,467 L63.74,463 L64.9,459 L66.17,455 L67.29,451 L68.21,447 L69.14,443 L70.06,439 L70.99,435 L71.91,431 L72.84,427 L73.76,423 L74.69,419 L75.7,415 L76.71,411 L77.73,407 L79.07,401.19 L79.54,399.25 L80.01,397.31 L80.48,395.36 L80.95,393.42 L81.42,391.47 L81.9,389.52 L82.38,387.58 L82.86,385.63 L83.34,383.69 L83.82,381.75 L84.29,379.81 L84.77,377.87 L85.25,375.92 L85.73,373.98 L86.21,372.04 L86.69,370.1 L87.17,368.15 L87.65,366.21 L88.13,364.27 L88.61,362.33 L89.1,360.38 L89.58,358.44 L90.06,356.5 L90.55,354.55 L91.05,352.61 L91.54,350.66 L92.05,348.7 L92.55,346.73 L93.06,344.74 L93.65,342.78 L94.28,340.83 L94.92,338.9 L95.55,336.99 L96.18,335.08 L96.77,333.14 L97.37,331.18 L97.99,329.19 L98.67,327.18 L99.43,325.18 L100.31,323.25 L101.24,321.36 L102.16,319.51 L103.07,317.68 L103.98,315.86 L104.89,314.05 L105.81,312.23 L106.77,310.43 L107.74,308.63 L108.63,306.82 L109.52,305.03 L110.42,303.29 L111.28,301.58 L112.04,299.78 L112.83,297.94 L113.61,296.01 L114.45,293.98 L115.54,291.97 L116.71,289.97 L117.96,287.98 L119.31,286.04 L120.93,284.33 L122.61,282.69 L124.38,281.13 L126.23,279.73 L128.15,278.57 L129.99,277.4 L131.78,276.24 L133.58,275.13 L135.43,274.06 L137.36,272.98 L139.35,271.88 L141.41,270.83 L143.59,269.95 L145.82,269.31 L147.98,268.7 L150.1,268.11 L152.19,267.66 L154.23,267.2 L156.26,266.72 L158.27,266.24 L160.29,265.82 L162.29,265.42 L164.28,265.02 L166.26,264.62 L168.25,264.22 L170.25,263.82 L172.26,263.42 L174.3,263.05 L176.34,262.73 L178.37,262.42 L180.38,262.12 L182.37,261.82 L184.35,261.52 L186.32,261.22 L188.3,260.93 L190.27,260.66 L192.25,260.41 L194.24,260.16 L196.22,259.91 L198.19,259.66 L200.15,259.42 L202.11,259.17 L204.05,258.91 L206,258.63 L207.94,258.33 L209.9,258.03 L211.85,257.73 L213.76,257.44 L215.62,257.16 L217.43,256.89 L219.13,256.54 L220.71,256.11 L222.13,255.76 L223.38,255.49 L224.43,255.14 L225.33,254.45 L226.05,253.31 L227.03,251.96 L228.21,250.4 L229.66,248.75 L231.35,247.19 L233.19,245.82 L235,244.51 L236.76,243.24 L238.52,242.02 L240.3,240.92 L242.03,239.91 L243.7,238.96 L245.3,238.06 L246.77,237.03 L248.08,235.66 L249.48,234.18 L251.05,232.68 L252.81,231.28 L254.76,230.18 L256.63,229.15 L258.42,228.19 L260.09,227.2 L261.7,226.13 L263.31,225.02 L264.97,223.87 L266.67,222.7 L268.42,221.57 L270.18,220.5 L271.91,219.44 L273.62,218.41 L275.28,217.37 L276.88,216.28 L278.48,215.17 L280.08,214.06 L281.67,212.94 L283.25,211.79 L284.79,210.6 L286.33,209.41 L287.86,208.22 L289.41,207.01 L290.93,205.69 L292.49,204.31 L294.12,202.92 L295.87,201.64 L297.76,200.67 L299.56,199.69 L301.3,198.76 L302.92,197.77 L304.45,196.74 L305.95,195.66 L307.43,194.6 L308.84,193.45 L310.16,192.18 L311.47,190.8 L312.78,189.31 L314.13,187.76 L315.61,186.23 L317.28,184.93 L318.91,183.65 L320.5,182.42 L322.02,181.2 L323.44,179.97 L324.78,178.69 L326.12,177.44 L327.36,176.12 L328.43,174.6 L329.53,173.04 L330.67,171.43 L331.84,169.78 L333.04,168.1 L334.37,166.5 L335.7,164.91 L337.05,163.34 L338.44,161.79 L339.85,160.25 L341.29,158.71 L342.82,157.24 L344.42,155.84 L346.08,154.52 L347.76,153.26 L349.45,152.01 L351.15,150.75 L352.89,149.56 L354.72,148.47 L356.6,147.5 L358.47,146.53 L360.33,145.57 L362.24,144.78 L364.12,144.01 L365.98,143.25 L367.82,142.5 L369.61,141.7 L371.4,140.85 L373.2,140 L375.01,139.14 L376.86,138.3 L378.74,137.49 L380.62,136.69 L382.52,135.88 L384.45,135.13 L386.4,134.47 L388.36,133.82 L390.31,133.18 L392.27,132.6 L394.22,132.06 L396.16,131.53 L398.08,130.99 L399.99,130.44 L401.9,129.87 L403.81,129.29 L405.72,128.72 L407.65,128.15 L409.59,127.59 L411.53,127.04 L413.48,126.48 L415.43,125.96 L417.39,125.47 L419.35,124.97 L421.31,124.48 L423.26,124.02 L425.2,123.56 L427.14,123.1 L429.07,122.64 L430.98,122.13 L432.9,121.61 L434.82,121.1 L436.74,120.58 L438.67,120.06 L440.59,119.53 L442.5,119.01 L444.42,118.47 L446.32,117.91 L448.22,117.36 L450.12,116.8 L452.02,116.21 L453.91,115.61 L455.79,115.01 L457.68,114.41 L459.55,113.79 L461.42,113.13 L463.28,112.47 L465.15,111.81 L467.02,111.13 L468.87,110.43 L470.73,109.72 L472.6,109.01 L474.46,108.3 L476.33,107.59 L478.19,106.88 L480.05,106.18 L481.89,105.45 L483.73,104.7 L485.57,103.96 L487.4,103.21 L489.23,102.45 L491.03,101.65 L492.84,100.84 L494.64,100.03 L496.45,99.21 L498.24,98.36 L500.03,97.49 L501.82,96.63 L503.61,95.76 L505.41,94.89 L507.2,94.01 L508.99,93.14 L510.78,92.26 L512.56,91.37 L514.34,90.47 L516.12,89.58 L517.89,88.69 L519.65,87.78 L521.4,86.84 L523.15,85.9 L524.9,84.96 L526.65,84.01 L528.4,83.04 L530.14,82.07 L531.89,81.1 L533.65,80.13 L535.41,79.18 L537.17,78.23 L538.93,77.28 L540.69,76.33 L542.43,75.37 L544.17,74.41 L545.9,73.46 L547.62,72.51 L549.31,71.51 L550.97,70.45 L552.62,69.38 L554.28,68.32 L555.94,67.24 L557.59,66.12 L559.22,64.98 L560.85,63.82 L562.49,62.65 L564.15,61.5 L565.84,60.36 L567.53,59.23 L569.24,58.13 L570.98,57.09 L572.72,56.05 L574.45,55.01 L576.18,53.98 L577.92,52.97 L579.66,51.97 L581.4,50.96 L583.14,49.96 L584.88,48.96 L586.63,47.97 L588.37,46.98 L590.12,46 L591.88,45.02 L593.64,44.04 L595.42,43.06 L597.2,42.08 L599,41.13 L600.86,40.3 L602.71,39.46 L604.55,38.63 L606.39,37.81 L608.24,37 L610.1,36.19 L611.96,35.37 L613.85,34.59 L615.77,33.86 L617.71,33.17 L619.65,32.48 L621.6,31.82 L623.58,31.25 L625.58,30.7 L627.57,30.16 L629.58,29.65 L631.62,29.31 L633.65,28.97 L635.67,28.64 L637.68,28.34 L639.68,28.09 L641.67,27.84 L643.66,27.59 L645.63,27.31 L647.6,27 L649.57,26.69 L651.54,26.38 L653.53,26.08 L655.51,25.79 L657.5,25.49 L659.49,25.19 L661.48,24.92 L663.46,24.66 L665.45,24.39 L667.43,24.13 L669.41,23.85 L671.4,23.57 L673.39,23.29 L675.39,23.04 L677.39,22.81 L679.38,22.58 L681.38,22.35 L683.37,22.13 L685.37,21.91 L687.36,21.69 L689.37,21.48 L691.37,21.26 L693.37,21.09 L695.37,20.93 L697.37,20.77 L699.36,20.61 L701.34,20.42 L703.33,20.22 L705.32,20.02 L707.31,19.82 L709.3,19.65 L711.3,19.47 L713.28,19.3 L715.27,19.11 L717.25,18.91 L719.23,18.69 L721.22,18.48 L723.22,18.28 L725.22,18.1 L727.21,17.91 L728,17.91 L728,23.39 L727.74,23.39 L725.75,23.58 L723.76,23.76 L721.78,23.96 L719.79,24.17 L717.8,24.39 L715.81,24.6 L713.81,24.8 L711.81,24.97 L709.82,25.15 L707.83,25.33 L705.84,25.52 L703.85,25.72 L701.85,25.93 L699.86,26.12 L697.86,26.29 L695.87,26.45 L693.88,26.61 L691.9,26.78 L689.93,27 L687.95,27.21 L685.97,27.43 L683.99,27.65 L682.01,27.88 L680.03,28.11 L678.05,28.33 L676.08,28.56 L674.11,28.82 L672.14,29.1 L670.17,29.38 L668.19,29.66 L666.21,29.93 L664.23,30.19 L662.25,30.46 L660.27,30.73 L658.31,31.02 L656.34,31.32 L654.37,31.62 L652.39,31.92 L650.42,32.23 L648.44,32.54 L646.46,32.86 L644.47,33.16 L642.49,33.45 L640.52,33.74 L638.56,34.03 L636.62,34.37 L634.7,34.73 L632.79,35.08 L630.89,35.44 L629.03,35.96 L627.18,36.51 L625.33,37.05 L623.48,37.62 L621.66,38.29 L619.84,38.98 L618.02,39.67 L616.22,40.4 L614.43,41.18 L612.64,42 L610.85,42.83 L609.05,43.66 L607.26,44.51 L605.47,45.36 L603.69,46.2 L601.92,47.04 L600.17,47.93 L598.42,48.83 L596.66,49.73 L594.9,50.64 L593.13,51.56 L591.37,52.49 L589.61,53.42 L587.85,54.35 L586.09,55.29 L584.33,56.23 L582.58,57.18 L580.83,58.13 L579.08,59.08 L577.35,60.04 L575.62,61.01 L573.89,61.98 L572.18,62.94 L570.49,63.96 L568.83,65 L567.17,66.06 L565.51,67.14 L563.86,68.25 L562.2,69.36 L560.55,70.5 L558.89,71.64 L557.2,72.75 L555.51,73.86 L553.8,74.97 L552.1,76.08 L550.35,77.12 L548.58,78.12 L546.81,79.11 L545.05,80.09 L543.3,81.07 L541.54,82.04 L539.79,83 L538.03,83.95 L536.29,84.92 L534.55,85.89 L532.81,86.87 L531.06,87.86 L529.31,88.84 L527.55,89.81 L525.79,90.77 L524.02,91.74 L522.25,92.7 L520.46,93.64 L518.67,94.56 L516.88,95.47 L515.09,96.39 L513.3,97.3 L511.5,98.19 L509.71,99.08 L507.91,99.98 L506.11,100.87 L504.31,101.75 L502.51,102.64 L500.7,103.53 L498.89,104.41 L497.06,105.26 L495.23,106.11 L493.39,106.95 L491.55,107.8 L489.69,108.59 L487.82,109.37 L485.96,110.15 L484.1,110.93 L482.23,111.69 L480.36,112.42 L478.49,113.15 L476.62,113.88 L474.76,114.62 L472.89,115.35 L471.02,116.08 L469.15,116.82 L467.26,117.52 L465.36,118.22 L463.46,118.91 L461.56,119.61 L459.65,120.26 L457.73,120.9 L455.81,121.53 L453.9,122.16 L451.97,122.78 L450.04,123.37 L448.11,123.96 L446.18,124.54 L444.25,125.1 L442.32,125.66 L440.38,126.21 L438.45,126.76 L436.52,127.3 L434.58,127.84 L432.64,128.38 L430.69,128.92 L428.74,129.41 L426.79,129.9 L424.84,130.38 L422.91,130.86 L420.99,131.37 L419.07,131.87 L417.16,132.37 L415.26,132.9 L413.36,133.46 L411.47,134.03 L409.57,134.6 L407.66,135.18 L405.75,135.77 L403.84,136.37 L401.92,136.97 L399.99,137.55 L398.06,138.09 L396.15,138.64 L394.25,139.17 L392.37,139.74 L390.53,140.36 L388.69,140.98 L386.87,141.61 L385.07,142.32 L383.29,143.09 L381.5,143.87 L379.71,144.65 L377.92,145.48 L376.13,146.34 L374.32,147.21 L372.49,148.09 L370.64,148.93 L368.78,149.7 L366.94,150.47 L365.12,151.22 L363.34,151.97 L361.65,152.86 L359.98,153.74 L358.31,154.61 L356.7,155.57 L355.16,156.65 L353.65,157.78 L352.13,158.92 L350.64,160.1 L349.2,161.31 L347.82,162.57 L346.49,163.9 L345.24,165.32 L343.98,166.75 L342.73,168.21 L341.51,169.7 L340.3,171.2 L339.1,172.7 L338.01,174.3 L336.89,175.93 L335.75,177.61 L334.57,179.34 L333.36,181.1 L331.92,182.72 L330.38,184.25 L328.85,185.77 L327.29,187.19 L325.73,188.53 L324.19,189.79 L322.69,191.01 L321.23,192.19 L319.97,193.57 L318.74,195.06 L317.44,196.6 L316.02,198.15 L314.5,199.68 L312.84,201.11 L311.12,202.43 L309.4,203.74 L307.65,204.99 L305.88,206.13 L304.13,207.14 L302.44,208.12 L300.76,208.95 L299.3,210.04 L297.9,211.25 L296.47,212.53 L294.97,213.83 L293.37,215.09 L291.74,216.35 L290.12,217.6 L288.49,218.86 L286.84,220.07 L285.16,221.25 L283.47,222.42 L281.78,223.59 L280.08,224.74 L278.35,225.83 L276.63,226.87 L274.95,227.89 L273.29,228.9 L271.73,230.01 L270.24,231.25 L268.71,232.52 L267.14,233.82 L265.51,235.11 L263.85,236.32 L262.2,237.41 L260.65,238.45 L259.18,239.43 L257.91,240.64 L256.71,242.02 L255.47,243.54 L254.12,245.16 L252.53,246.67 L250.87,248.07 L249.27,249.43 L247.73,250.74 L246.3,252.02 L244.96,253.33 L243.68,254.65 L242.43,255.92 L241.22,257.14 L240.15,258.47 L239.01,259.86 L237.81,261.51 L236.4,263.38 L234.74,265.45 L232.5,267.23 L229.96,268.53 L227.4,269.45 L224.98,270.22 L222.72,270.92 L220.52,271.44 L218.38,271.8 L216.3,272.16 L214.25,272.5 L212.25,272.84 L210.26,273.18 L208.26,273.52 L206.25,273.85 L204.23,274.15 L202.22,274.43 L200.22,274.72 L198.23,275 L196.25,275.29 L194.27,275.57 L192.28,275.85 L190.3,276.13 L188.31,276.41 L186.33,276.69 L184.35,276.97 L182.38,277.25 L180.44,277.53 L178.51,277.8 L176.6,278.08 L174.7,278.41 L172.8,278.78 L170.87,279.15 L168.94,279.52 L167,279.89 L165.06,280.26 L163.14,280.62 L161.25,281 L159.38,281.43 L157.52,281.86 L155.67,282.25 L153.87,282.62 L152.16,283.09 L150.5,283.52 L148.91,283.93 L147.41,284.51 L145.96,285.26 L144.48,286.08 L142.93,286.94 L141.33,287.85 L139.73,288.83 L138.17,289.84 L136.64,290.79 L135.12,291.65 L133.8,292.63 L132.58,293.7 L131.42,294.84 L130.19,295.92 L128.94,296.98 L127.74,298.14 L126.58,299.37 L125.46,300.67 L124.53,302.21 L123.53,303.86 L122.45,305.56 L121.33,307.3 L120.08,308.98 L118.8,310.6 L117.62,312.23 L116.45,313.84 L115.33,315.46 L114.22,317.08 L113.16,318.74 L112.1,320.4 L111.05,322.07 L110,323.73 L108.98,325.37 L107.97,326.99 L107.03,328.61 L106.24,330.3 L105.53,332.04 L104.86,333.84 L104.18,335.67 L103.49,337.53 L102.86,339.41 L102.22,341.29 L101.59,343.15 L100.96,345.01 L100.39,346.87 L99.89,348.76 L99.39,350.66 L98.89,352.57 L98.38,354.49 L97.88,356.42 L97.38,358.36 L96.88,360.29 L96.39,362.22 L95.89,364.16 L95.4,366.1 L94.9,368.03 L94.41,369.97 L93.92,371.91 L93.43,373.85 L92.93,375.78 L92.44,377.72 L91.95,379.66 L91.46,381.6 L90.97,383.54 L90.47,385.48 L89.98,387.41 L89.49,389.35 L89,391.29 L88.51,393.22 L88.03,395.16 L87.55,397.1 L87.06,399.04 L86.58,400.98 L86.1,402.92 L85.09,407 L84.19,411 L83.29,415 L82.39,419 L81.58,423 L80.78,427 L79.97,431 L79.16,435 L78.35,439 L77.54,443 L76.73,447 L75.92,451 L74.92,455 L73.59,459 L72.36,463 L71.6,467 L70.84,471 L70.09,475 L69.33,479 L68.4,483 L67.45,487 L66.54,491 L65.63,495 L64.96,499 L64.28,503 L63.6,507 L62.92,511 L62.21,515 L61.68,519 L61.14,523 L60.61,527 L60.08,531 L59.72,535 L59.5,539 L59.28,543 L59.05,547 L58.83,551 L58.61,555 L58.39,559 L58.16,563 L57.94,567 L58,585Z" fill="#1f77b4" fill-opacity=".1" stroke="#1f77b4" stroke-opacity=".1" stroke-width="1.39" stroke-linejoin="miter" clip-path="url(#c1)"/>
<path d="M50,452.5 H785 M50,337.5 H785 M50,221.5 H785 M50,106.5 H785" stroke="#b0b0b0" stroke-width="1.11" fill="none"/>
<path d="M50,567.5 L51,567.5 L52,567.5 L53,567.5 L54,567.5 L55,545.81 L56,532.8 L57,532.8 L58,532.8 L59,523.18 L60,512.5 L61,505.5 L62,498.5 L63,492 L64,486 L65,480 L66,478.03 L67,470.14 L68,462.25 L69,458.75 L70,455.25 L71,451.75 L72,447.35 L73,442.95 L74,438.55 L75,434.15 L76,429.75 L77,425.35 L78,420.95 L79,416.75 L80,412.75 L81,408.75 L82,404.75 L83,400.68 L84,396.59 L85,392.5 L86,388.5 L87,384.5 L88,380.5 L89,376.5 L90,372.5 L91,368.5 L92,364.52 L93,360.56 L94,356.59 L95,352.69 L96,348.85 L97,345 L98,342 L99,339 L100,336 L101,333 L102,330 L103,327.4 L104,325.39 L106,321.71 L108,318.1 L110,314.5 L112,311.17 L114,307.83 L116,304.73 L118,300.95 L120,296.9 L122,294.1 L124,291.5 L126,289.5 L128,287.5 L130,285.8 L132,284.6 L134,283.3 L136,281.97 L138,280.72 L140,279.57 L142,278.43 L144,277.34 L146,276.51 L148,275.94 L150,275.37 L152,274.8 L154,274.36 L156,273.93 L158,273.49 L160,273.05 L162,272.69 L164,272.33 L166,271.97 L168,271.61 L170,271.25 L172,270.89 L174,270.53 L176,270.22 L178,269.96 L180,269.7 L182,269.44 L184,269.18 L186,268.92 L188,268.66 L190,268.4 L192,268.13 L194,267.87 L196,267.6 L198,267.33 L200,267.07 L202,266.8 L204,266.53 L206,266.24 L208,265.92 L210,265.6 L212,265.28 L214,264.96 L216,264.64 L218,264.32 L220,264 L222,263.41 L224,262.83 L226,262.24 L228,261.55 L230,260 L232,257.3 L234,254.6 L236,252.4 L238,250.71 L240,249.02 L242,247.32 L244,245.84 L246,244.43 L248,243.01 L250,241.6 L252,239.34 L254,237.08 L256,235.35 L258,234.14 L260,232.93 L262,231.73 L264,230.29 L266,228.78 L268,227.26 L270,225.75 L272,224.54 L274,223.32 L276,222.11 L278,220.85 L280,219.47 L282,218.08 L284,216.69 L286,215.23 L288,213.68 L290,212.13 L292,210.59 L294,208.85 L296,207.05 L298,205.45 L300,204.45 L302,203.33 L304,202.21 L306,200.92 L308,199.44 L310,197.97 L312,196.28 L314,194.24 L316,191.91 L318,189.54 L320,187.95 L322,186.36 L324,184.77 L326,183.01 L328,181.07 L330,179.13 L332,176.25 L334,173.37 L336,170.48 L338,168.03 L340,165.64 L342,163.38 L344,161.18 L346,159.25 L348,157.59 L350,156.05 L352,154.56 L354,153.07 L356,151.81 L358,150.77 L360,149.73 L362,148.69 L364,147.87 L366,147.04 L368,146.22 L370,145.4 L372,144.44 L374,143.49 L376,142.53 L378,141.6 L380,140.73 L382,139.87 L384,139.01 L386,138.24 L388,137.57 L390,136.91 L392,136.24 L394,135.68 L396,135.12 L398,134.56 L400,134 L402,133.39 L404,132.77 L406,132.16 L408,131.55 L410,130.97 L412,130.38 L414,129.79 L416,129.24 L418,128.73 L420,128.21 L422,127.7 L424,127.21 L426,126.72 L428,126.24 L430,125.75 L432,125.2 L434,124.66 L436,124.11 L438,123.56 L440,123 L442,122.44 L444,121.88 L446,121.3 L448,120.7 L450,120.1 L452,119.5 L454,118.85 L456,118.2 L458,117.55 L460,116.9 L462,116.18 L464,115.46 L466,114.74 L468,114.01 L470,113.23 L472,112.46 L474,111.69 L476,110.91 L478,110.14 L480,109.37 L482,108.6 L484,107.77 L486,106.95 L488,106.12 L490,105.3 L492,104.39 L494,103.49 L496,102.58 L498,101.66 L500,100.68 L502,99.71 L504,98.74 L506,97.76 L508,96.77 L510,95.79 L512,94.8 L514,93.79 L516,92.78 L518,91.76 L520,90.75 L522,89.67 L524,88.59 L526,87.51 L528,86.42 L530,85.3 L532,84.18 L534,83.06 L536,81.96 L538,80.87 L540,79.79 L542,78.7 L544,77.59 L546,76.47 L548,75.36 L550,74.25 L552,72.96 L554,71.66 L556,70.37 L558,69.05 L560,67.67 L562,66.28 L564,64.89 L566,63.55 L568,62.25 L570,60.95 L572,59.79 L574,58.63 L576,57.47 L578,56.32 L580,55.2 L582,54.08 L584,52.96 L586,51.85 L588,50.76 L590,49.67 L592,48.57 L594,47.5 L596,46.43 L598,45.37 L600,44.3 L602,43.38 L604,42.45 L606,41.53 L608,40.61 L610,39.71 L612,38.81 L614,37.92 L616,37.1 L618,36.36 L620,35.62 L622,34.88 L624,34.28 L626,33.71 L628,33.15 L630,32.58 L632,32.23 L634,31.88 L636,31.53 L638,31.2 L640,30.93 L642,30.66 L644,30.39 L646,30.09 L648,29.78 L650,29.46 L652,29.14 L654,28.84 L656,28.54 L658,28.24 L660,27.94 L662,27.67 L664,27.4 L666,27.14 L668,26.87 L670,26.58 L672,26.3 L674,26.02 L676,25.77 L678,25.54 L680,25.31 L682,25.08 L684,24.85 L686,24.63 L688,24.42 L690,24.2 L692,23.98 L694,23.82 L696,23.66 L698,23.49 L700,23.33 L702,23.13 L704,22.93 L706,22.73 L708,22.53 L710,22.36 L712,22.18 L714,22.01 L716,21.81 L718,21.6 L720,21.38 L722,21.16 L724,20.98 L726,20.79 L728,20.6" fill="none" stroke="#1f77b4" stroke-width="2.08" stroke-linejoin="round" clip-path="url(#c1)"/>
<g fill="#ff7f0e" clip-path="url(#c1)">
<circle cx="68.5" cy="567.5" r="4.86"/>
<circle cx="70.5" cy="567.5" r="4.86"/>
<circle cx="72.5" cy="567.5" r="4.86"/>
<circle cx="75.5" cy="567.5" r="4.86"/>
<circle cx="77.5" cy="498.5" r="4.86"/>
<circle cx="79.5" cy="457.5" r="4.86"/>
<circle cx="81.5" cy="443.5" r="4.86"/>
<circle cx="83.5" cy="431.5" r="4.86"/>
<circle cx="85.5" cy="428.5" r="4.86"/>
<circle cx="87.5" cy="404.5" r="4.86"/>
<circle cx="89.5" cy="384.5" r="4.86"/>
<circle cx="91.5" cy="379.5" r="4.86"/>
<circle cx="93.5" cy="371.5" r="4.86"/>
<circle cx="95.5" cy="359.5" r="4.86"/>
<circle cx="97.5" cy="351.5" r="4.86"/>
<circle cx="99.5" cy="341.5" r="4.86"/>
<circle cx="101.5" cy="331.5" r="4.86"/>
<circle cx="103.5" cy="327.5" r="4.86"/>
<circle cx="105.5" cy="323.5" r="4.86"/>
<circle cx="107.5" cy="320.5" r="4.86"/>
<circle cx="109.5" cy="316.5" r="4.86"/>
<circle cx="111.5" cy="313.5" r="4.86"/>
<circle cx="113.5" cy="309.5" r="4.86"/>
<circle cx="115.5" cy="306.5" r="4.86"/>
<circle cx="117.5" cy="302.5" r="4.86"/>
<circle cx="119.5" cy="298.5" r="4.86"/>
<circle cx="121.5" cy="295.5" r="4.86"/>
<circle cx="123.5" cy="292.5" r="4.86"/>
<circle cx="125.5" cy="290.5" r="4.86"/>
<circle cx="127.5" cy="288.5" r="4.86"/>
<circle cx="129.5" cy="286.5" r="4.86"/>
<circle cx="132.5" cy="285.5" r="4.86"/>
<circle cx="134.5" cy="284.5" r="4.86"/>
<circle cx="136.5" cy="282.5" r="4.86"/>
<circle cx="138.5" cy="281.5" r="4.86"/>
<circle cx="140.5" cy="280.5" r="4.86"/>
<circle cx="142.5" cy="279.5" r="4.86"/>
<circle cx="144.5" cy="277.5" r="4.86"/>
<circle cx="146.5" cy="277.5" r="4.86"/>
<circle cx="148.5" cy="276.5" r="4.86"/>
<circle cx="150.5" cy="275.5" r="4.86"/>
<circle cx="152.5" cy="275.5" r="4.86"/>
<circle cx="154.5" cy="274.5" r="4.86"/>
<circle cx="156.5" cy="274.5" r="4.86"/>
<circle cx="158.5" cy="273.5" r="4.86"/>
<circle cx="160.5" cy="273.5" r="4.86"/>
<circle cx="162.5" cy="273.5" r="4.86"/>
<circle cx="164.5" cy="272.5" r="4.86"/>
<circle cx="166.5" cy="272.5" r="4.86"/>
<circle cx="168.5" cy="272.5" r="4.86"/>
<circle cx="170.5" cy="271.5" r="4.86"/>
<circle cx="172.5" cy="271.5" r="4.86"/>
<circle cx="174.5" cy="270.5" r="4.86"/>
<circle cx="176.5" cy="270.5" r="4.86"/>
<circle cx="178.5" cy="270.5" r="4.86"/>
<circle cx="180.5" cy="270.5" r="4.86"/>
<circle cx="182.5" cy="269.5" r="4.86"/>
<circle cx="184.5" cy="269.5" r="4.86"/>
<circle cx="186.5" cy="269.5" r="4.86"/>
<circle cx="189.5" cy="269.5" r="4.86"/>
<circle cx="191.5" cy="268.5" r="4.86"/>
<circle cx="193.5" cy="268.5" r="4.86"/>
<circle cx="195.5" cy="268.5" r="4.86"/>
<circle cx="197.5" cy="268.5" r="4.86"/>
<circle cx="199.5" cy="267.5" r="4.86"/>
<circle cx="201.5" cy="267.5" r="4.86"/>
<circle cx="203.5" cy="267.5" r="4.86"/>
<circle cx="205.5" cy="266.5" r="4.86"/>
<circle cx="207.5" cy="266.5" r="4.86"/>
<circle cx="209.5" cy="266.5" r="4.86"/>
<circle cx="211.5" cy="265.5" r="4.86"/>
<circle cx="213.5" cy="265.5" r="4.86"/>
<circle cx="215.5" cy="265.5" r="4.86"/>
<circle cx="217.5" cy="264.5" r="4.86"/>
<circle cx="219.5" cy="264.5" r="4.86"/>
<circle cx="221.5" cy="264.5" r="4.86"/>
<circle cx="223.5" cy="263.5" r="4.86"/>
<circle cx="225.5" cy="262.5" r="4.86"/>
<circle cx="227.5" cy="262.5" r="4.86"/>
<circle cx="229.5" cy="261.5" r="4.86"/>
<circle cx="231.5" cy="259.5" r="4.86"/>
<circle cx="233.5" cy="257.5" r="4.86"/>
<circle cx="235.5" cy="254.5" r="4.86"/>
<circle cx="237.5" cy="253.5" r="4.86"/>
<circle cx="239.5" cy="251.5" r="4.86"/>
<circle cx="241.5" cy="250.5" r="4.86"/>
<circle cx="244.5" cy="248.5" r="4.86"/>
<circle cx="246.5" cy="247.5" r="4.86"/>
<circle cx="248.5" cy="245.5" r="4.86"/>
<circle cx="250.5" cy="244.5" r="4.86"/>
<circle cx="252.5" cy="242.5" r="4.86"/>
<circle cx="254.5" cy="240.5" r="4.86"/>
<circle cx="256.5" cy="238.5" r="4.86"/>
<circle cx="258.5" cy="237.5" r="4.86"/>
<circle cx="260.5" cy="236.5" r="4.86"/>
<circle cx="262.5" cy="234.5" r="4.86"/>
<circle cx="264.5" cy="233.5" r="4.86"/>
<circle cx="266.5" cy="232.5" r="4.86"/>
<circle cx="268.5" cy="230.5" r="4.86"/>
<circle cx="270.5" cy="229.5" r="4.86"/>
<circle cx="272.5" cy="227.5" r="4.86"/>
<circle cx="274.5" cy="226.5" r="4.86"/>
<circle cx="276.5" cy="225.5" r="4.86"/>
<circle cx="278.5" cy="224.5" r="4.86"/>
<circle cx="280.5" cy="222.5" r="4.86"/>
<circle cx="282.5" cy="221.5" r="4.86"/>
<circle cx="284.5" cy="219.5" r="4.86"/>
<circle cx="286.5" cy="218.5" r="4.86"/>
<circle cx="288.5" cy="216.5" r="4.86"/>
<circle cx="290.5" cy="215.5" r="4.86"/>
<circle cx="292.5" cy="213.5" r="4.86"/>
<circle cx="294.5" cy="211.5" r="4.86"/>
<circle cx="296.5" cy="209.5" r="4.86"/>
<circle cx="298.5" cy="208.5" r="4.86"/>
<circle cx="301.5" cy="207.5" r="4.86"/>
<circle cx="303.5" cy="206.5" r="4.86"/>
<circle cx="305.5" cy="205.5" r="4.86"/>
<circle cx="307.5" cy="203.5" r="4.86"/>
<circle cx="309.5" cy="201.5" r="4.86"/>
<circle cx="311.5" cy="200.5" r="4.86"/>
<circle cx="313.5" cy="198.5" r="4.86"/>
<circle cx="315.5" cy="196.5" r="4.86"/>
<circle cx="317.5" cy="193.5" r="4.86"/>
<circle cx="319.5" cy="191.5" r="4.86"/>
<circle cx="321.5" cy="189.5" r="4.86"/>
<circle cx="323.5" cy="188.5" r="4.86"/>
<circle cx="325.5" cy="186.5" r="4.86"/>
<circle cx="327.5" cy="184.5" r="4.86"/>
<circle cx="329.5" cy="182.5" r="4.86"/>
<circle cx="331.5" cy="179.5" r="4.86"/>
<circle cx="333.5" cy="176.5" r="4.86"/>
<circle cx="335.5" cy="173.5" r="4.86"/>
<circle cx="337.5" cy="171.5" r="4.86"/>
<circle cx="339.5" cy="168.5" r="4.86"/>
<circle cx="341.5" cy="166.5" r="4.86"/>
<circle cx="343.5" cy="163.5" r="4.86"/>
<circle cx="345.5" cy="161.5" r="4.86"/>
<circle cx="347.5" cy="159.5" r="4.86"/>
<circle cx="349.5" cy="158.5" r="4.86"/>
<circle cx="351.5" cy="156.5" r="4.86"/>
<circle cx="353.5" cy="155.5" r="4.86"/>
<circle cx="355.5" cy="153.5" r="4.86"/>
<circle cx="358.5" cy="152.5" r="4.86"/>
<circle cx="360.5" cy="151.5" r="4.86"/>
<circle cx="362.5" cy="150.5" r="4.86"/>
<circle cx="364.5" cy="149.5" r="4.86"/>
<circle cx="366.5" cy="149.5" r="4.86"/>
<circle cx="368.5" cy="148.5" r="4.86"/>
<circle cx="370.5" cy="147.5" r="4.86"/>
<circle cx="372.5" cy="146.5" r="4.86"/>
<circle cx="374.5" cy="145.5" r="4.86"/>
<circle cx="376.5" cy="144.5" r="4.86"/>
<circle cx="378.5" cy="143.5" r="4.86"/>
<circle cx="380.5" cy="142.5" r="4.86"/>
<circle cx="382.5" cy="141.5" r="4.86"/>
<circle cx="384.5" cy="140.5" r="4.86"/>
<circle cx="386.5" cy="140.5" r="4.86"/>
<circle cx="388.5" cy="139.5" r="4.86"/>
<circle cx="390.5" cy="138.5" r="4.86"/>
<circle cx="392.5" cy="138.5" r="4.86"/>
<circle cx="394.5" cy="137.5" r="4.86"/>
<circle cx="396.5" cy="137.5" r="4.86"/>
<circle cx="398.5" cy="136.5" r="4.86"/>
<circle cx="400.5" cy="135.5" r="4.86"/>
<circle cx="402.5" cy="135.5" r="4.86"/>
<circle cx="404.5" cy="134.5" r="4.86"/>
<circle cx="406.5" cy="134.5" r="4.86"/>
<circle cx="408.5" cy="133.5" r="4.86"/>
<circle cx="410.5" cy="132.5" r="4.86"/>
<circle cx="412.5" cy="132.5" r="4.86"/>
<circle cx="415.5" cy="131.5" r="4.86"/>
<circle cx="417.5" cy="131.5" r="4.86"/>
<circle cx="419.5" cy="130.5" r="4.86"/>
<circle cx="421.5" cy="130.5" r="4.86"/>
<circle cx="423.5" cy="129.5" r="4.86"/>
<circle cx="425.5" cy="129.5" r="4.86"/>
<circle cx="427.5" cy="128.5" r="4.86"/>
<circle cx="429.5" cy="128.5" r="4.86"/>
<circle cx="431.5" cy="127.5" r="4.86"/>
<circle cx="433.5" cy="126.5" r="4.86"/>
<circle cx="435.5" cy="126.5" r="4.86"/>
<circle cx="437.5" cy="125.5" r="4.86"/>
<circle cx="439.5" cy="125.5" r="4.86"/>
<circle cx="441.5" cy="124.5" r="4.86"/>
<circle cx="443.5" cy="124.5" r="4.86"/>
<circle cx="445.5" cy="123.5" r="4.86"/>
<circle cx="447.5" cy="122.5" r="4.86"/>
<circle cx="449.5" cy="122.5" r="4.86"/>
<circle cx="451.5" cy="121.5" r="4.86"/>
<circle cx="453.5" cy="121.5" r="4.86"/>
<circle cx="455.5" cy="120.5" r="4.86"/>
<circle cx="457.5" cy="119.5" r="4.86"/>
<circle cx="459.5" cy="119.5" r="4.86"/>
<circle cx="461.5" cy="118.5" r="4.86"/>
<circle cx="463.5" cy="117.5" r="4.86"/>
<circle cx="465.5" cy="116.5" r="4.86"/>
<circle cx="467.5" cy="116.5" r="4.86"/>
<circle cx="470.5" cy="115.5" r="4.86"/>
<circle cx="472.5" cy="114.5" r="4.86"/>
<circle cx="474.5" cy="113.5" r="4.86"/>
<circle cx="476.5" cy="113.5" r="4.86"/>
<circle cx="478.5" cy="112.5" r="4.86"/>
<circle cx="480.5" cy="111.5" r="4.86"/>
<circle cx="482.5" cy="110.5" r="4.86"/>
<circle cx="484.5" cy="109.5" r="4.86"/>
<circle cx="486.5" cy="109.5" r="4.86"/>
<circle cx="488.5" cy="108.5" r="4.86"/>
<circle cx="490.5" cy="107.5" r="4.86"/>
<circle cx="492.5" cy="106.5" r="4.86"/>
<circle cx="494.5" cy="105.5" r="4.86"/>
<circle cx="496.5" cy="104.5" r="4.86"/>
<circle cx="498.5" cy="103.5" r="4.86"/>
<circle cx="500.5" cy="102.5" r="4.86"/>
<circle cx="502.5" cy="101.5" r="4.86"/>
<circle cx="504.5" cy="100.5" r="4.86"/>
<circle cx="506.5" cy="99.5" r="4.86"/>
<circle cx="508.5" cy="98.5" r="4.86"/>
<circle cx="510.5" cy="97.5" r="4.86"/>
<circle cx="512.5" cy="96.5" r="4.86"/>
<circle cx="514.5" cy="95.5" r="4.86"/>
<circle cx="516.5" cy="94.5" r="4.86"/>
<circle cx="518.5" cy="93.5" r="4.86"/>
<circle cx="520.5" cy="92.5" r="4.86"/>
<circle cx="522.5" cy="91.5" r="4.86"/>
<circle cx="524.5" cy="90.5" r="4.86"/>
<circle cx="527.5" cy="89.5" r="4.86"/>
<circle cx="529.5" cy="88.5" r="4.86"/>
<circle cx="531.5" cy="86.5" r="4.86"/>
<circle cx="533.5" cy="85.5" r="4.86"/>
<circle cx="535.5" cy="84.5" r="4.86"/>
<circle cx="537.5" cy="83.5" r="4.86"/>
<circle cx="539.5" cy="82.5" r="4.86"/>
<circle cx="541.5" cy="81.5" r="4.86"/>
<circle cx="543.5" cy="80.5" r="4.86"/>
<circle cx="545.5" cy="79.5" r="4.86"/>
<circle cx="547.5" cy="77.5" r="4.86"/>
<circle cx="549.5" cy="76.5" r="4.86"/>
<circle cx="551.5" cy="75.5" r="4.86"/>
<circle cx="553.5" cy="74.5" r="4.86"/>
<circle cx="555.5" cy="73.5" r="4.86"/>
<circle cx="557.5" cy="71.5" r="4.86"/>
<circle cx="559.5" cy="70.5" r="4.86"/>
<circle cx="561.5" cy="69.5" r="4.86"/>
<circle cx="563.5" cy="68.5" r="4.86"/>
<circle cx="565.5" cy="66.5" r="4.86"/>
<circle cx="567.5" cy="65.5" r="4.86"/>
<circle cx="569.5" cy="64.5" r="4.86"/>
<circle cx="571.5" cy="63.5" r="4.86"/>
<circle cx="573.5" cy="61.5" r="4.86"/>
<circle cx="575.5" cy="60.5" r="4.86"/>
<circle cx="577.5" cy="59.5" r="4.86"/>
<circle cx="579.5" cy="58.5" r="4.86"/>
<circle cx="581.5" cy="57.5" r="4.86"/>
<circle cx="584.5" cy="56.5" r="4.86"/>
<circle cx="586.5" cy="55.5" r="4.86"/>
<circle cx="588.5" cy="54.5" r="4.86"/>
<circle cx="590.5" cy="53.5" r="4.86"/>
<circle cx="592.5" cy="52.5" r="4.86"/>
<circle cx="594.5" cy="51.5" r="4.86"/>
<circle cx="596.5" cy="50.5" r="4.86"/>
<circle cx="598.5" cy="49.5" r="4.86"/>
<circle cx="600.5" cy="48.5" r="4.86"/>
<circle cx="602.5" cy="47.5" r="4.86"/>
<circle cx="604.5" cy="46.5" r="4.86"/>
<circle cx="606.5" cy="45.5" r="4.86"/>
<circle cx="608.5" cy="44.5" r="4.86"/>
<circle cx="610.5" cy="43.5" r="4.86"/>
<circle cx="612.5" cy="42.5" r="4.86"/>
<circle cx="614.5" cy="41.5" r="4.86"/>
<circle cx="616.5" cy="40.5" r="4.86"/>
<circle cx="618.5" cy="39.5" r="4.86"/>
<circle cx="620.5" cy="38.5" r="4.86"/>
<circle cx="622.5" cy="37.5" r="4.86"/>
<circle cx="624.5" cy="37.5" r="4.86"/>
<circle cx="626.5" cy="36.5" r="4.86"/>
<circle cx="628.5" cy="35.5" r="4.86"/>
<circle cx="630.5" cy="35.5" r="4.86"/>
<circle cx="632.5" cy="34.5" r="4.86"/>
<circle cx="634.5" cy="34.5" r="4.86"/>
<circle cx="636.5" cy="33.5" r="4.86"/>
<circle cx="638.5" cy="33.5" r="4.86"/>
<circle cx="641.5" cy="33.5" r="4.86"/>
<circle cx="643.5" cy="32.5" r="4.86"/>
<circle cx="645.5" cy="32.5" r="4.86"/>
<circle cx="647.5" cy="31.5" r="4.86"/>
<circle cx="649.5" cy="31.5" r="4.86"/>
<circle cx="651.5" cy="31.5" r="4.86"/>
<circle cx="653.5" cy="30.5" r="4.86"/>
<circle cx="655.5" cy="30.5" r="4.86"/>
<circle cx="657.5" cy="30.5" r="4.86"/>
<circle cx="659.5" cy="30.5" r="4.86"/>
<circle cx="661.5" cy="29.5" r="4.86"/>
<circle cx="663.5" cy="29.5" r="4.86"/>
<circle cx="665.5" cy="29.5" r="4.86"/>
<circle cx="667.5" cy="28.5" r="4.86"/>
<circle cx="669.5" cy="28.5" r="4.86"/>
<circle cx="671.5" cy="28.5" r="4.86"/>
<circle cx="673.5" cy="27.5" r="4.86"/>
<circle cx="675.5" cy="27.5" r="4.86"/>
<circle cx="677.5" cy="27.5" r="4.86"/>
<circle cx="679.5" cy="27.5" r="4.86"/>
<circle cx="681.5" cy="26.5" r="4.86"/>
<circle cx="683.5" cy="26.5" r="4.86"/>
<circle cx="685.5" cy="26.5" r="4.86"/>
<circle cx="687.5" cy="26.5" r="4.86"/>
<circle cx="689.5" cy="25.5" r="4.86"/>
<circle cx="691.5" cy="25.5" r="4.86"/>
<circle cx="693.5" cy="25.5" r="4.86"/>
<circle cx="696.5" cy="25.5" r="4.86"/>
<circle cx="698.5" cy="25.5" r="4.86"/>
<circle cx="700.5" cy="25.5" r="4.86"/>
<circle cx="702.5" cy="24.5" r="4.86"/>
<circle cx="704.5" cy="24.5" r="4.86"/>
<circle cx="706.5" cy="24.5" r="4.86"/>
<circle cx="708.5" cy="24.5" r="4.86"/>
<circle cx="710.5" cy="23.5" r="4.86"/>
<circle cx="712.5" cy="23.5" r="4.86"/>
<circle cx="714.5" cy="23.5" r="4.86"/>
<circle cx="716.5" cy="23.5" r="4.86"/>
<circle cx="718.5" cy="23.5" r="4.86"/>
<circle cx="720.5" cy="22.5" r="4.86"/>
<circle cx="722.5" cy="22.5" r="4.86"/>
<circle cx="724.5" cy="22.5" r="4.86"/>
<circle cx="726.5" cy="22.5" r="4.86"/>
<circle cx="728.5" cy="22.5" r="4.86"/>
<circle cx="730.5" cy="21.5" r="4.86"/>
<circle cx="732.5" cy="21.5" r="4.86"/>
<circle cx="734.5" cy="21.5" r="4.86"/>
<circle cx="736.5" cy="21.5" r="4.86"/>
<circle cx="738.5" cy="21.5" r="4.86"/>
<circle cx="740.5" cy="21.5" r="4.86"/>
<circle cx="742.5" cy="21.5" r="4.86"/>
<circle cx="744.5" cy="20.5" r="4.86"/>
<circle cx="746.5" cy="20.5" r="4.86"/>
<circle cx="748.5" cy="20.5" r="4.86"/>
<circle cx="750.5" cy="20.5" r="4.86"/>
<circle cx="753.5" cy="20.5" r="4.86"/>
<circle cx="755.5" cy="20.5" r="4.86"/>
<circle cx="757.5" cy="20.5" r="4.86"/>
<circle cx="759.5" cy="19.5" r="4.86"/>
<circle cx="761.5" cy="19.5" r="4.86"/>
<circle cx="763.5" cy="19.5" r="4.86"/>
<circle cx="765.5" cy="19.5" r="4.86"/>
<circle cx="767.5" cy="19.5" r="4.86"/>
<circle cx="769.5" cy="19.5" r="4.86"/>
<circle cx="771.5" cy="19.5" r="4.86"/>
<circle cx="773.5" cy="19.5" r="4.86"/>
<circle cx="775.5" cy="18.5" r="4.86"/>
<circle cx="777.5" cy="18.5" r="4.86"/>
<circle cx="779.5" cy="18.5" r="4.86"/>
<circle cx="781.5" cy="18.5" r="4.86"/>
<circle cx="783.5" cy="18.5" r="4.86"/>
<circle cx="785.5" cy="18.5" r="4.86"/>
</g>
<path d="M728,567 V15" stroke="#1f77b4" stroke-opacity=".5" stroke-width="2.08" stroke-dasharray="7.71 3.33" fill="none"/>
<path d="M50.5,567.5 v4.86 M107.5,567.5 v4.86 M168.5,567.5 v4.86 M231.5,567.5 v4.86 M292.5,567.5 v4.86 M355.5,567.5 v4.86 M419.5,567.5 v4.86 M480.5,567.5 v4.86 M543.5,567.5 v4.86 M604.5,567.5 v4.86 M667.5,567.5 v4.86 M730.5,567.5 v4.86 M785.5,567.5 v4.86 M50.5,567.5 h-4.86 M50.5,452.5 h-4.86 M50.5,337.5 h-4.86 M50.5,221.5 h-4.86 M50.5,106.5 h-4.86" stroke="#000" stroke-width="1.11" fill="none"/>
<path d="M60.5,567.5 v2.78 M75.5,567.5 v2.78 M89.5,567.5 v2.78 M103.5,567.5 v2.78 M117.5,567.5 v2.78 M132.5,567.5 v2.78 M146.5,567.5 v2.78 M160.5,567.5 v2.78 M174.5,567.5 v2.78 M189.5,567.5 v2.78 M203.5,567.5 v2.78 M217.5,567.5 v2.78 M231.5,567.5 v2.78 M246.5,567.5 v2.78 M260.5,567.5 v2.78 M274.5,567.5 v2.78 M288.5,567.5 v2.78 M303.5,567.5 v2.78 M317.5,567.5 v2.78 M331.5,567.5 v2.78 M345.5,567.5 v2.78 M360.5,567.5 v2.78 M374.5,567.5 v2.78 M388.5,567.5 v2.78 M402.5,567.5 v2.78 M417.5,567.5 v2.78 M431.5,567.5 v2.78 M445.5,567.5 v2.78 M459.5,567.5 v2.78 M474.5,567.5 v2.78 M488.5,567.5 v2.78 M502.5,567.5 v2.78 M516.5,567.5 v2.78 M531.5,567.5 v2.78 M545.5,567.5 v2.78 M559.5,567.5 v2.78 M573.5,567.5 v2.78 M588.5,567.5 v2.78 M602.5,567.5 v2.78 M616.5,567.5 v2.78 M630.5,567.5 v2.78 M645.5,567.5 v2.78 M659.5,567.5 v2.78 M673.5,567.5 v2.78 M687.5,567.5 v2.78 M702.5,567.5 v2.78 M716.5,567.5 v2.78 M730.5,567.5 v2.78 M744.5,567.5 v2.78 M759.5,567.5 v2.78 M773.5,567.5 v2.78 M50.5,532.5 h-2.78 M50.5,512.5 h-2.78 M50.5,498.5 h-2.78 M50.5,486.5 h-2.78 M50.5,477.5 h-2.78 M50.5,470.5 h-2.78 M50.5,463.5 h-2.78 M50.5,457.5 h-2.78 M50.5,417.5 h-2.78 M50.5,397.5 h-2.78 M50.5,382.5 h-2.78 M50.5,371.5 h-2.78 M50.5,362.5 h-2.78 M50.5,354.5 h-2.78 M50.5,348.5 h-2.78 M50.5,342.5 h-2.78 M50.5,302.5 h-2.78 M50.5,282.5 h-2.78 M50.5,267.5 h-2.78 M50.5,256.5 h-2.78 M50.5,247.5 h-2.78 M50.5,239.5 h-2.78 M50.5,232.5 h-2.78 M50.5,227.5 h-2.78 M50.5,187.5 h-2.78 M50.5,166.5 h-2.78 M50.5,152.5 h-2.78 M50.5,141.5 h-2.78 M50.5,132.5 h-2.78 M50.5,124.5 h-2.78 M50.5,117.5 h-2.78 M50.5,111.5 h-2.78 M50.5,71.5 h-2.78 M50.5,51.5 h-2.78 M50.5,37.5 h-2.78 M50.5,25.5 h-2.78 M50.5,16.5 h-2.78" stroke="#000" stroke-width=".83" fill="none"/>
<rect x="50.5" y="15.5" width="735" height="552" fill="none" stroke="#000" stroke-width="1.11"/>
<rect x="57.5" y="22.5" width="120" height="25" rx="2.78" fill="#fff" fill-opacity=".8" stroke="#ccc" stroke-opacity=".8" stroke-width="1.39"/>
<path d="M61.96,34 H91.04" stroke="#1f77b4" stroke-width="2.08" fill="none"/>
<text x="102.2" y="38" font-size="14" textLength="68.6" lengthAdjust="spacingAndGlyphs">confirmed</text>
<path d="M48,1145 L50.2,1145 L52.2,1016.7 L51.5,1016.7 L53.5,964.91 L52.8,964.91 L54.8,931.9 L54,931.9 L56,923.08 L58.4,923.08 L60.4,915.03 L64.6,915.03 L66.6,907.62 L70.9,907.62 L72.9,900.76 L78.4,900.76 L80.4,894.37 L88.4,894.37 L90.4,888.4 L103.6,888.4 L105.6,882.79 L109.6,882.79 L111.6,877.5 L117.4,877.5 L119.4,872.5 L128.6,872.5 L130.6,867.75 L149.6,867.75 L151.6,863.24 L164.1,863.24 L166.1,858.93 L204.9,858.93 L206.9,854.82 L239.7,854.82 L241.7,850.88 L258.6,850.88 L260.6,847.1 L266,847.1 L268,843.47 L286,843.47 L288,839.98 L299,839.98 L301,836.61 L311,836.61 L313,833.36 L319,833.36 L321,830.23 L331.05,824.25 L333.09,824.25 L335.13,824.25 L337.16,821.4 L339.2,821.4 L341.23,821.4 L343.27,818.64 L345.31,818.64 L347.34,815.96 L349.38,815.96 L351.41,813.35 L353.45,813.35 L355.49,810.82 L357.52,810.82 L359.56,808.35 L361.59,808.35 L363.63,805.94 L365.67,803.6 L367.7,803.6 L369.74,801.32 L371.77,801.32 L373.81,799.09 L375.85,796.91 L377.88,796.91 L379.92,794.78 L381.95,794.78 L383.99,792.7 L386.03,790.67 L388.06,790.67 L390.1,788.68 L392.13,788.68 L394.17,786.73 L396.21,784.82 L398.24,784.82 L400.28,782.95 L402.31,782.95 L404.35,781.12 L406.39,779.32 L408.42,779.32 L410.46,777.56 L412.49,777.56 L414.53,775.83 L416.57,774.13 L418.6,774.13 L420.64,772.46 L422.68,772.46 L424.71,770.82 L426.75,769.21 L428.78,769.21 L430.82,767.63 L432.86,767.63 L434.89,766.08 L436.93,766.08 L438.96,764.55 L441,763.04 L443.04,763.04 L445.07,761.56 L447.11,761.56 L449.14,760.1 L451.18,760.1 L453.22,758.67 L455.25,757.26 L457.29,755.86 L459.32,755.86 L461.36,754.49 L463.4,753.14 L465.43,751.81 L467.47,751.81 L469.5,750.5 L471.54,749.2 L473.58,749.2 L475.61,747.93 L477.65,746.67 L479.68,746.67 L481.72,745.42 L483.76,744.2 L485.79,744.2 L487.83,742.99 L489.86,741.79 L491.9,740.62 L493.94,739.45 L495.97,738.3 L498.01,737.17 L500.04,736.04 L502.08,734.94 L504.12,733.84 L506.15,732.76 L508.19,731.69 L510.22,730.63 L512.26,729.58 L514.3,728.55 L516.33,727.53 L518.37,726.52 L520.4,725.52 L522.44,724.53 L524.48,722.58 L526.51,721.62 L528.55,720.67 L530.58,719.73 L532.62,717.88 L534.66,716.97 L536.69,716.06 L538.73,714.28 L540.76,713.41 L542.8,711.68 L544.84,709.98 L546.87,709.14 L548.91,707.49 L550.94,706.67 L552.98,705.06 L555.02,703.48 L557.05,702.7 L559.09,701.16 L561.12,699.64 L563.16,698.15 L565.2,697.41 L567.23,695.95 L569.27,694.52 L571.3,693.11 L573.34,691.03 L575.38,689.66 L577.41,687.66 L579.45,686.35 L581.48,684.41 L583.52,682.52 L585.56,680.66 L587.59,678.84 L589.63,677.05 L591.66,675.3 L593.7,673.58 L595.74,671.89 L597.77,670.24 L599.81,668.61 L601.84,666.48 L603.88,664.92 L605.92,662.87 L607.95,661.37 L609.99,659.4 L612.02,657.47 L614.06,655.58 L616.1,653.27 L618.13,651.47 L620.17,649.26 L622.2,647.1 L624.24,644.99 L626.28,642.93 L628.31,640.91 L630.35,638.55 L632.38,636.63 L634.42,634.37 L636.46,632.53 L638.49,630.37 L640.53,628.26 L642.56,626.19 L644.6,624.17 L646.64,622.85 L648.67,621.55 L650.71,620.26 L652.74,619 L654.78,617.74 L656.82,616.51 L658.85,615.29 L660.89,614.09 L662.92,613.2 L664.96,612.32 L667,611.44 L669.03,610.58 L671.07,609.72 L673.1,608.87 L675.14,608.02 L677.18,607.47 L679.21,606.64 L681.25,606.09 L683.28,605.54 L685.32,605 L687.36,604.19 L689.39,603.66 L691.43,603.12 L693.46,602.6 L695.5,602.07 L697.54,601.55 L699.57,601.03 L701.61,600.51 L703.64,600 L705.68,599.48 L707.72,598.98 L709.75,598.47 L711.79,597.97 L713.82,597.47 L715.86,596.97 L717.9,596.47 L719.93,595.98 L721.97,595.74 L724,595.25 L726.04,595 L728,594.76 L728,635.12 L726.04,635.12 L724,635.49 L721.97,635.87 L719.93,636.25 L717.9,636.63 L715.86,637.01 L713.82,637.39 L711.79,638.16 L709.75,638.55 L707.72,638.94 L705.68,639.33 L703.64,639.73 L701.61,640.52 L699.57,641.31 L697.54,641.72 L695.5,642.52 L693.46,642.93 L691.43,643.75 L689.39,644.16 L687.36,644.99 L685.32,645.83 L683.28,646.25 L681.25,647.1 L679.21,647.96 L677.18,648.39 L675.14,649.26 L673.1,650.14 L671.07,650.58 L669.03,651.47 L667,652.37 L664.96,653.27 L662.92,653.73 L660.89,654.65 L658.85,655.58 L656.82,656.52 L654.78,657.47 L652.74,658.91 L650.71,659.89 L648.67,660.87 L646.64,661.87 L644.6,663.38 L642.56,664.92 L640.53,667.01 L638.49,669.15 L636.46,671.34 L634.42,673.02 L632.38,675.3 L630.35,677.05 L628.31,678.84 L626.28,681.27 L624.24,683.14 L622.2,685.05 L620.17,687 L618.13,688.99 L616.1,691.03 L614.06,693.11 L612.02,695.23 L609.99,696.68 L607.95,698.89 L605.92,701.16 L603.88,702.7 L601.84,705.06 L599.81,706.67 L597.77,708.31 L595.74,710.82 L593.7,712.54 L591.66,714.28 L589.63,716.06 L587.59,718.8 L585.56,720.67 L583.52,722.58 L581.48,724.53 L579.45,727.53 L577.41,729.58 L575.38,731.69 L573.34,733.84 L571.3,736.04 L569.27,737.17 L567.23,739.45 L565.2,741.79 L563.16,744.2 L561.12,745.42 L559.09,747.93 L557.05,750.5 L555.02,751.81 L552.98,754.49 L550.94,755.86 L548.91,758.67 L546.87,760.1 L544.84,761.56 L542.8,763.04 L540.76,766.08 L538.73,767.63 L536.69,769.21 L534.66,770.82 L532.62,772.46 L530.58,774.13 L528.55,775.83 L526.51,777.56 L524.48,779.32 L522.44,781.12 L520.4,782.95 L518.37,782.95 L516.33,784.82 L514.3,786.73 L512.26,788.68 L510.22,790.67 L508.19,790.67 L506.15,792.7 L504.12,792.7 L502.08,794.78 L500.04,796.91 L498.01,796.91 L495.97,799.09 L493.94,799.09 L491.9,801.32 L489.86,801.32 L487.83,803.6 L485.79,803.6 L483.76,805.94 L481.72,805.94 L479.68,808.35 L477.65,808.35 L475.61,808.35 L473.58,810.82 L471.54,810.82 L469.5,813.35 L467.47,813.35 L465.43,815.96 L463.4,815.96 L461.36,818.64 L459.32,818.64 L457.29,821.4 L455.25,821.4 L453.22,824.25 L451.18,824.25 L449.14,827.19 L447.11,827.19 L445.07,830.23 L443.04,830.23 L441,833.36 L438.96,833.36 L436.93,836.61 L434.89,836.61 L432.86,839.98 L430.82,839.98 L428.78,843.47 L426.75,843.47 L424.71,843.47 L422.68,847.1 L420.64,847.1 L418.6,850.88 L416.57,850.88 L414.53,854.82 L412.49,854.82 L410.46,854.82 L408.42,858.93 L406.39,858.93 L404.35,863.24 L402.31,863.24 L400.28,867.75 L398.24,867.75 L396.21,872.5 L394.17,872.5 L392.13,877.5 L390.1,877.5 L388.06,882.79 L386.03,882.79 L383.99,888.4 L381.95,888.4 L379.92,888.4 L377.88,894.37 L375.85,894.37 L373.81,894.37 L368.7,900.76 L366.7,907.62 L361.7,907.62 L359.7,915.03 L355.1,915.03 L353.1,923.08 L347.6,923.08 L345.6,931.9 L340,931.9 L338,941.65 L331.25,941.65 L329.25,952.55 L323,952.55 L321,964.91 L308.5,964.91 L306.5,979.18 L290.7,979.18 L288.7,996.05 L257.75,996.05 L255.75,1016.7 L201,1016.7 L199,1043.33 L146,1043.33 L144,1080.85 L111,1080.85 L109,1209.15 L48,1209.15Z" fill="#1f77b4" fill-opacity=".1" stroke="#1f77b4" stroke-opacity=".1" stroke-width="1.39" stroke-linejoin="miter" clip-path="url(#c2)"/>
<path d="M48,1145 L50.5,1145 L52.5,1043.33 L52,1043.33 L54,996.05 L54.5,996.05 L56.5,979.18 L61.75,979.18 L63.75,964.91 L65.25,964.91 L67.25,952.55 L69.25,952.55 L71.25,941.65 L76.25,941.65 L78.25,931.9 L87,931.9 L89,923.08 L95.25,923.08 L97.25,915.03 L109.5,915.03 L111.5,907.62 L123.75,907.62 L125.75,900.76 L135.6,900.76 L137.6,894.37 L153.3,894.37 L155.3,888.4 L176.1,888.4 L178.1,882.79 L200.7,882.79 L202.7,877.5 L241.6,877.5 L243.6,872.5 L265.5,872.5 L267.5,867.75 L279.6,867.75 L281.6,863.24 L292,863.24 L294,858.93 L307,858.93 L309,854.82 L314.6,854.82 L316.6,850.88 L323.4,850.88 L325.4,847.1 L331.05,843.47 L333.09,843.47 L335.13,843.47 L337.16,839.98 L339.2,839.98 L341.23,839.98 L343.27,836.61 L345.31,836.61 L347.34,833.36 L349.38,833.36 L351.41,830.23 L353.45,830.23 L355.49,827.19 L357.52,827.19 L359.56,824.25 L361.59,824.25 L363.63,821.4 L365.67,818.64 L367.7,818.64 L369.74,815.96 L371.77,815.96 L373.81,813.35 L375.85,810.82 L377.88,810.82 L379.92,808.35 L381.95,808.35 L383.99,805.94 L386.03,805.94 L388.06,803.6 L390.1,801.32 L392.13,801.32 L394.17,799.09 L396.21,799.09 L398.24,796.91 L400.28,796.91 L402.31,794.78 L404.35,794.78 L406.39,792.7 L408.42,792.7 L410.46,790.67 L412.49,790.67 L414.53,788.68 L416.57,788.68 L418.6,786.73 L420.64,784.82 L422.68,784.82 L424.71,782.95 L426.75,782.95 L428.78,781.12 L430.82,781.12 L432.86,779.32 L434.89,779.32 L436.93,777.56 L438.96,777.56 L441,775.83 L443.04,775.83 L445.07,774.13 L447.11,774.13 L449.14,774.13 L451.18,772.46 L453.22,770.82 L455.25,769.21 L457.29,767.63 L459.32,766.08 L461.36,764.55 L463.4,763.04 L465.43,761.56 L467.47,760.1 L469.5,758.67 L471.54,758.67 L473.58,757.26 L475.61,755.86 L477.65,755.86 L479.68,754.49 L481.72,753.14 L483.76,753.14 L485.79,751.81 L487.83,750.5 L489.86,750.5 L491.9,749.2 L493.94,747.93 L495.97,746.67 L498.01,745.42 L500.04,744.2 L502.08,742.99 L504.12,741.79 L506.15,740.62 L508.19,739.45 L510.22,739.45 L512.26,738.3 L514.3,737.17 L516.33,736.04 L518.37,734.94 L520.4,732.76 L522.44,731.69 L524.48,730.63 L526.51,729.58 L528.55,728.55 L530.58,727.53 L532.62,726.52 L534.66,724.53 L536.69,723.55 L538.73,721.62 L540.76,720.67 L542.8,718.8 L544.84,717.88 L546.87,716.06 L548.91,715.17 L550.94,713.41 L552.98,711.68 L555.02,710.82 L557.05,709.14 L559.09,707.49 L561.12,705.87 L563.16,705.06 L565.2,703.48 L567.23,701.93 L569.27,700.4 L571.3,698.89 L573.34,696.68 L575.38,695.23 L577.41,693.11 L579.45,691.71 L581.48,689.66 L583.52,687.66 L585.56,686.35 L587.59,684.41 L589.63,682.52 L591.66,680.66 L593.7,679.44 L595.74,677.65 L597.77,675.88 L599.81,674.15 L601.84,672.45 L603.88,670.79 L605.92,669.15 L607.95,667.01 L609.99,665.44 L612.02,663.38 L614.06,661.37 L616.1,659.4 L618.13,657.47 L620.17,655.11 L622.2,653.27 L624.24,651.02 L626.28,648.82 L628.31,646.67 L630.35,644.58 L632.38,642.52 L634.42,640.52 L636.46,638.55 L638.49,636.25 L640.53,634.37 L642.56,632.17 L644.6,630.01 L646.64,628.61 L648.67,627.22 L650.71,626.19 L652.74,624.84 L654.78,623.51 L656.82,622.2 L658.85,620.9 L660.89,619.63 L662.92,618.68 L664.96,617.74 L667,616.82 L669.03,615.9 L671.07,614.99 L673.1,614.09 L675.14,613.2 L677.18,612.61 L679.21,612.02 L681.25,611.44 L683.28,610.86 L685.32,610.29 L687.36,609.72 L689.39,609.15 L691.43,608.59 L693.46,608.3 L695.5,607.75 L697.54,607.47 L699.57,606.91 L701.61,606.36 L703.64,606.09 L705.68,605.54 L707.72,605.27 L709.75,604.73 L711.79,604.19 L713.82,603.92 L715.86,603.39 L717.9,602.86 L719.93,602.6 L721.97,602.07 L724,601.81 L726.04,601.55 L728,601.29 L728,628.96 L726.04,629.31 L724,629.66 L721.97,630.01 L719.93,630.37 L717.9,630.73 L715.86,631.08 L713.82,631.44 L711.79,632.17 L709.75,632.53 L707.72,632.9 L705.68,633.26 L703.64,634 L701.61,634.37 L699.57,635.12 L697.54,635.87 L695.5,636.25 L693.46,637.01 L691.43,637.39 L689.39,638.16 L687.36,638.94 L685.32,639.73 L683.28,640.52 L681.25,640.91 L679.21,641.72 L677.18,642.52 L675.14,643.34 L673.1,643.75 L671.07,644.58 L669.03,645.41 L667,646.25 L664.96,646.67 L662.92,647.53 L660.89,648.39 L658.85,649.26 L656.82,650.14 L654.78,651.02 L652.74,651.91 L650.71,653.27 L648.67,654.19 L646.64,655.11 L644.6,656.52 L642.56,658.43 L640.53,660.38 L638.49,662.37 L636.46,664.4 L634.42,666.48 L632.38,668.61 L630.35,670.79 L628.31,672.45 L626.28,674.73 L624.24,676.47 L622.2,678.24 L620.17,680.05 L618.13,682.52 L616.1,684.41 L614.06,686.35 L612.02,688.32 L609.99,690.34 L607.95,692.41 L605.92,693.81 L603.88,695.95 L601.84,698.15 L599.81,699.64 L597.77,701.93 L595.74,703.48 L593.7,705.87 L591.66,707.49 L589.63,709.14 L587.59,711.68 L585.56,713.41 L583.52,715.17 L581.48,717.88 L579.45,719.73 L577.41,721.62 L575.38,723.55 L573.34,725.52 L571.3,727.53 L569.27,729.58 L567.23,731.69 L565.2,733.84 L563.16,736.04 L561.12,737.17 L559.09,739.45 L557.05,741.79 L555.02,742.99 L552.98,745.42 L550.94,746.67 L548.91,749.2 L546.87,750.5 L544.84,751.81 L542.8,753.14 L540.76,755.86 L538.73,757.26 L536.69,758.67 L534.66,760.1 L532.62,761.56 L530.58,763.04 L528.55,764.55 L526.51,766.08 L524.48,767.63 L522.44,769.21 L520.4,770.82 L518.37,772.46 L516.33,774.13 L514.3,775.83 L512.26,777.56 L510.22,779.32 L508.19,781.12 L506.15,781.12 L504.12,782.95 L502.08,784.82 L500.04,786.73 L498.01,786.73 L495.97,788.68 L493.94,790.67 L491.9,790.67 L489.86,792.7 L487.83,792.7 L485.79,794.78 L483.76,796.91 L481.72,796.91 L479.68,799.09 L477.65,799.09 L475.61,801.32 L473.58,801.32 L471.54,803.6 L469.5,803.6 L467.47,805.94 L465.43,805.94 L463.4,808.35 L461.36,810.82 L459.32,810.82 L457.29,813.35 L455.25,813.35 L453.22,815.96 L451.18,815.96 L449.14,818.64 L447.11,818.64 L445.07,821.4 L443.04,821.4 L441,824.25 L438.96,824.25 L436.93,824.25 L434.89,827.19 L432.86,827.19 L430.82,827.19 L428.78,830.23 L426.75,830.23 L424.71,833.36 L422.68,833.36 L420.64,833.36 L418.6,836.61 L416.57,836.61 L414.53,839.98 L412.49,839.98 L410.46,839.98 L408.42,843.47 L406.39,843.47 L404.35,847.1 L402.31,847.1 L400.28,850.88 L398.24,850.88 L396.21,854.82 L394.17,854.82 L392.13,858.93 L390.1,858.93 L388.06,863.24 L386.03,863.24 L383.99,867.75 L381.95,867.75 L379.92,872.5 L377.88,872.5 L375.85,877.5 L373.81,877.5 L371.77,877.5 L369.74,882.79 L367.7,882.79 L365.67,888.4 L363.63,888.4 L361.59,888.4 L359.56,888.4 L355.25,894.37 L353.25,900.76 L349,900.76 L347,907.62 L341.6,907.62 L339.6,915.03 L335.6,915.03 L333.6,923.08 L329,923.08 L327,931.9 L317,931.9 L315,941.65 L302.75,941.65 L300.75,952.55 L282.5,952.55 L280.5,964.91 L247.75,964.91 L245.75,979.18 L186.75,979.18 L184.75,996.05 L146,996.05 L144,1016.7 L125.25,1016.7 L123.25,1043.33 L103.25,1043.33 L101.25,1080.85 L82.5,1080.85 L80.5,1209.15 L48,1209.15Z" fill="#1f77b4" fill-opacity=".1" stroke="#1f77b4" stroke-opacity=".1" stroke-width="1.39" stroke-linejoin="miter" clip-path="url(#c2)"/>
<path d="M48,1145 L51,1145 L53,1080.85 L54.5,1080.85 L56.5,1043.33 L58.5,1043.33 L60.5,1016.7 L62.5,1016.7 L64.5,996.05 L69,996.05 L71,979.18 L76.5,979.18 L78.5,964.91 L83,964.91 L85,952.55 L93,952.55 L95,941.65 L105,941.65 L107,931.9 L119.75,931.9 L121.75,923.08 L137.25,923.08 L139.25,915.03 L155.7,915.03 L157.7,907.62 L176.4,907.62 L178.4,900.76 L220.2,900.76 L222.2,894.37 L264.5,894.37 L266.5,888.4 L279.5,888.4 L281.5,882.79 L292.5,882.79 L294.5,877.5 L299.5,877.5 L301.5,872.5 L307.5,872.5 L309.5,867.75 L316.5,867.75 L318.5,863.24 L323.5,863.24 L325.5,858.93 L331.05,858.93 L333.09,854.82 L335.13,854.82 L337.16,854.82 L339.2,850.88 L341.23,850.88 L343.27,847.1 L345.31,847.1 L347.34,847.1 L349.38,843.47 L351.41,843.47 L353.45,839.98 L355.49,839.98 L357.52,836.61 L359.56,836.61 L361.59,833.36 L363.63,833.36 L365.67,833.36 L367.7,830.23 L369.74,830.23 L371.77,827.19 L373.81,827.19 L375.85,824.25 L377.88,821.4 L379.92,821.4 L381.95,818.64 L383.99,818.64 L386.03,815.96 L388.06,813.35 L390.1,813.35 L392.13,810.82 L394.17,810.82 L396.21,810.82 L398.24,808.35 L400.28,808.35 L402.31,805.94 L404.35,805.94 L406.39,803.6 L408.42,803.6 L410.46,801.32 L412.49,801.32 L414.53,799.09 L416.57,799.09 L418.6,796.91 L420.64,796.91 L422.68,794.78 L424.71,794.78 L426.75,792.7 L428.78,792.7 L430.82,790.67 L432.86,790.67 L434.89,790.67 L436.93,788.68 L438.96,788.68 L441,786.73 L443.04,786.73 L445.07,784.82 L447.11,784.82 L449.14,782.95 L451.18,782.95 L453.22,781.12 L455.25,779.32 L457.29,779.32 L459.32,777.56 L461.36,775.83 L463.4,774.13 L465.43,774.13 L467.47,772.46 L469.5,770.82 L471.54,769.21 L473.58,769.21 L475.61,767.63 L477.65,766.08 L479.68,764.55 L481.72,763.04 L483.76,761.56 L485.79,760.1 L487.83,760.1 L489.86,758.67 L491.9,757.26 L493.94,755.86 L495.97,754.49 L498.01,753.14 L500.04,753.14 L502.08,751.81 L504.12,750.5 L506.15,749.2 L508.19,747.93 L510.22,746.67 L512.26,745.42 L514.3,744.2 L516.33,742.99 L518.37,741.79 L520.4,740.62 L522.44,739.45 L524.48,738.3 L526.51,737.17 L528.55,736.04 L530.58,734.94 L532.62,732.76 L534.66,731.69 L536.69,730.63 L538.73,728.55 L540.76,727.53 L542.8,726.52 L544.84,724.53 L546.87,723.55 L548.91,721.62 L550.94,720.67 L552.98,718.8 L555.02,716.97 L557.05,716.06 L559.09,714.28 L561.12,712.54 L563.16,710.82 L565.2,709.98 L567.23,708.31 L569.27,706.67 L571.3,705.06 L573.34,702.7 L575.38,701.16 L577.41,698.89 L579.45,697.41 L581.48,695.23 L583.52,693.81 L585.56,691.71 L587.59,689.66 L589.63,687.66 L591.66,685.7 L593.7,684.41 L595.74,682.52 L597.77,680.66 L599.81,679.44 L601.84,677.65 L603.88,675.88 L605.92,674.15 L607.95,672.45 L609.99,670.79 L612.02,668.61 L614.06,666.48 L616.1,664.4 L618.13,662.37 L620.17,660.38 L622.2,657.95 L624.24,656.05 L626.28,653.73 L628.31,651.91 L630.35,649.7 L632.38,647.53 L634.42,645.41 L636.46,643.34 L638.49,640.91 L640.53,638.94 L642.56,636.63 L644.6,634.74 L646.64,633.26 L648.67,632.17 L650.71,630.73 L652.74,629.31 L654.78,628.26 L656.82,626.88 L658.85,625.85 L660.89,624.51 L662.92,623.84 L664.96,622.85 L667,621.87 L669.03,621.23 L671.07,620.26 L673.1,619.31 L675.14,618.37 L677.18,617.74 L679.21,617.43 L681.25,616.82 L683.28,616.2 L685.32,615.6 L687.36,614.99 L689.39,614.39 L691.43,614.09 L693.46,613.5 L695.5,613.2 L697.54,612.61 L699.57,612.32 L701.61,611.73 L703.64,611.44 L705.68,610.86 L707.72,610.29 L709.75,610 L711.79,609.43 L713.82,609.15 L715.86,608.59 L717.9,608.3 L719.93,607.75 L721.97,607.47 L724,607.19 L726.04,606.91 L728,606.64 L728,622.85 L726.04,623.51 L724,623.84 L721.97,624.17 L719.93,624.51 L717.9,625.18 L715.86,625.52 L713.82,626.19 L711.79,626.53 L709.75,627.22 L707.72,627.56 L705.68,627.91 L703.64,628.61 L701.61,629.31 L699.57,630.01 L697.54,630.37 L695.5,631.08 L693.46,631.8 L691.43,632.53 L689.39,632.9 L687.36,633.63 L685.32,634.37 L683.28,635.12 L681.25,635.87 L679.21,636.63 L677.18,637.39 L675.14,637.78 L673.1,638.55 L671.07,639.33 L669.03,640.12 L667,640.91 L664.96,641.72 L662.92,642.52 L660.89,643.34 L658.85,644.16 L656.82,644.99 L654.78,645.83 L652.74,647.1 L650.71,647.96 L648.67,648.82 L646.64,650.14 L644.6,651.02 L642.56,653.27 L640.53,655.11 L638.49,656.99 L636.46,658.91 L634.42,661.37 L632.38,663.38 L630.35,664.92 L628.31,667.01 L626.28,669.15 L624.24,670.79 L622.2,673.02 L620.17,674.73 L618.13,677.05 L616.1,678.84 L614.06,680.66 L612.02,683.14 L609.99,685.05 L607.95,687 L605.92,688.99 L603.88,690.34 L601.84,692.41 L599.81,694.52 L597.77,695.95 L595.74,698.15 L593.7,699.64 L591.66,701.16 L589.63,703.48 L587.59,705.06 L585.56,707.49 L583.52,709.14 L581.48,710.82 L579.45,713.41 L577.41,715.17 L575.38,716.97 L573.34,718.8 L571.3,720.67 L569.27,722.58 L567.23,724.53 L565.2,726.52 L563.16,728.55 L561.12,730.63 L559.09,732.76 L557.05,733.84 L555.02,736.04 L552.98,738.3 L550.94,740.62 L548.91,741.79 L546.87,742.99 L544.84,745.42 L542.8,746.67 L540.76,747.93 L538.73,750.5 L536.69,751.81 L534.66,753.14 L532.62,754.49 L530.58,755.86 L528.55,758.67 L526.51,760.1 L524.48,761.56 L522.44,761.56 L520.4,763.04 L518.37,764.55 L516.33,766.08 L514.3,767.63 L512.26,769.21 L510.22,770.82 L508.19,772.46 L506.15,774.13 L504.12,774.13 L502.08,775.83 L500.04,777.56 L498.01,779.32 L495.97,781.12 L493.94,781.12 L491.9,782.95 L489.86,784.82 L487.83,784.82 L485.79,786.73 L483.76,786.73 L481.72,788.68 L479.68,788.68 L477.65,790.67 L475.61,790.67 L473.58,792.7 L471.54,792.7 L469.5,794.78 L467.47,794.78 L465.43,796.91 L463.4,796.91 L461.36,799.09 L459.32,799.09 L457.29,801.32 L455.25,801.32 L453.22,803.6 L451.18,805.94 L449.14,805.94 L447.11,805.94 L445.07,808.35 L443.04,808.35 L441,810.82 L438.96,810.82 L436.93,810.82 L434.89,813.35 L432.86,813.35 L430.82,813.35 L428.78,815.96 L426.75,815.96 L424.71,818.64 L422.68,818.64 L420.64,818.64 L418.6,821.4 L416.57,821.4 L414.53,821.4 L412.49,824.25 L410.46,824.25 L408.42,827.19 L406.39,827.19 L404.35,830.23 L402.31,830.23 L400.28,833.36 L398.24,833.36 L396.21,836.61 L394.17,836.61 L392.13,839.98 L390.1,839.98 L388.06,843.47 L386.03,843.47 L383.99,847.1 L381.95,847.1 L379.92,850.88 L377.88,850.88 L375.85,850.88 L373.81,854.82 L371.77,854.82 L369.74,858.93 L367.7,858.93 L365.67,863.24 L363.63,867.75 L361.59,867.75 L359.56,872.5 L357.52,872.5 L355.49,872.5 L353.45,877.5 L351.41,877.5 L349.38,882.79 L347.34,882.79 L345.31,882.79 L343.27,888.4 L341.23,888.4 L339.2,888.4 L337.16,894.37 L333.5,894.37 L331.5,900.76 L326.75,900.76 L324.75,907.62 L319.25,907.62 L317.25,915.03 L306.5,915.03 L304.5,923.08 L292,923.08 L290,931.9 L268.25,931.9 L266.25,941.65 L237.75,941.65 L235.75,952.55 L189.25,952.55 L187.25,964.91 L154,964.91 L152,979.18 L129.5,979.18 L127.5,996.05 L109,996.05 L107,1016.7 L92.4,1016.7 L90.4,1043.33 L78.5,1043.33 L76.5,1080.85 L66,1080.85 L64,1209.15 L48,1209.15Z" fill="#1f77b4" fill-opacity=".1" stroke="#1f77b4" stroke-opacity=".1" stroke-width="1.39" stroke-linejoin="miter" clip-path="url(#c2)"/>
<path d="M728,613.88 L729.5,612.03 L731,610.99 L732.5,610.11 L734,609.31 L735.5,608.62 L737,608.08 L738.5,607.57 L740,607.08 L741.5,606.85 L743,606.63 L744.5,606.42 L746,606.22 L747.5,606.03 L749,605.85 L750.5,605.67 L752,605.49 L753.5,605.33 L755,605.17 L756.5,605.01 L758,604.54 L759.5,603.84 L761,603 L762.5,602.16 L764,601.71 L765.5,601.27 L767,600.83 L768.5,600.45 L770,600.07 L771.5,599.69 L773,599.37 L774.5,599.17 L776,598.98 L777.5,598.78 L779,598.59 L780.5,598.4 L782,598.21 L783.5,598.02 L785,597.83 L785,609.38 L783.5,609.42 L782,609.45 L780.5,609.48 L779,609.51 L777.5,609.54 L776,609.58 L774.5,609.61 L773,609.64 L771.5,609.78 L770,609.98 L768.5,610.18 L767,610.38 L765.5,610.64 L764,610.89 L762.5,611.15 L761,611.78 L759.5,612.42 L758,612.92 L756.5,613.17 L755,613.11 L753.5,613.05 L752,612.99 L750.5,612.92 L749,612.86 L747.5,612.78 L746,612.71 L744.5,612.64 L743,612.56 L741.5,612.47 L740,612.38 L738.5,612.53 L737,612.67 L735.5,612.81 L734,613.06 L732.5,613.36 L731,613.64 L729.5,613.91 L728,613.88Z" fill="#1f77b4" fill-opacity=".1" stroke="#1f77b4" stroke-opacity=".1" stroke-width="1.39" stroke-linejoin="miter" clip-path="url(#c2)"/>
<path d="M728,613.88 L729.5,612.41 L731,611.52 L732.5,610.76 L734,610.06 L735.5,609.46 L737,609 L738.5,608.57 L740,608.14 L741.5,607.98 L743,607.82 L744.5,607.66 L746,607.52 L747.5,607.38 L749,607.25 L750.5,607.12 L752,606.99 L753.5,606.87 L755,606.76 L756.5,606.64 L758,606.21 L759.5,605.56 L761,604.75 L762.5,603.96 L764,603.55 L765.5,603.14 L767,602.74 L768.5,602.39 L770,602.05 L771.5,601.71 L773,601.43 L774.5,601.26 L776,601.1 L777.5,600.93 L779,600.77 L780.5,600.61 L782,600.46 L783.5,600.3 L785,600.14 L785,607.07 L783.5,607.14 L782,607.2 L780.5,607.26 L779,607.33 L777.5,607.39 L776,607.46 L774.5,607.52 L773,607.58 L771.5,607.76 L770,608 L768.5,608.23 L767,608.47 L765.5,608.76 L764,609.06 L762.5,609.35 L761,610.03 L759.5,610.71 L758,611.24 L756.5,611.54 L755,611.52 L753.5,611.51 L752,611.49 L750.5,611.47 L749,611.45 L747.5,611.43 L746,611.41 L744.5,611.39 L743,611.37 L741.5,611.35 L740,611.32 L738.5,611.54 L737,611.76 L735.5,611.97 L734,612.31 L732.5,612.71 L731,613.11 L729.5,613.53 L728,613.88Z" fill="#1f77b4" fill-opacity=".1" stroke="#1f77b4" stroke-opacity=".1" stroke-width="1.39" stroke-linejoin="miter" clip-path="url(#c2)"/>
<path d="M728,613.88 L729.5,612.69 L731,611.91 L732.5,611.25 L734,610.62 L735.5,610.08 L737,609.69 L738.5,609.31 L740,608.94 L741.5,608.82 L743,608.7 L744.5,608.6 L746,608.49 L747.5,608.39 L749,608.3 L750.5,608.21 L752,608.12 L753.5,608.03 L755,607.95 L756.5,607.87 L758,607.47 L759.5,606.84 L761,606.07 L762.5,605.31 L764,604.93 L765.5,604.55 L767,604.17 L768.5,603.85 L770,603.54 L771.5,603.22 L773,602.97 L774.5,602.83 L776,602.69 L777.5,602.55 L779,602.41 L780.5,602.28 L782,602.14 L783.5,602.01 L785,601.87 L785,605.34 L783.5,605.43 L782,605.51 L780.5,605.6 L779,605.69 L777.5,605.78 L776,605.87 L774.5,605.95 L773,606.04 L771.5,606.25 L770,606.51 L768.5,606.77 L767,607.04 L765.5,607.36 L764,607.68 L762.5,608 L761,608.71 L759.5,609.42 L758,609.98 L756.5,610.32 L755,610.33 L753.5,610.35 L752,610.37 L750.5,610.38 L749,610.4 L747.5,610.42 L746,610.44 L744.5,610.46 L743,610.48 L741.5,610.5 L740,610.53 L738.5,610.8 L737,611.07 L735.5,611.34 L734,611.75 L732.5,612.22 L731,612.71 L729.5,613.25 L728,613.88Z" fill="#1f77b4" fill-opacity=".1" stroke="#1f77b4" stroke-opacity=".1" stroke-width="1.39" stroke-linejoin="miter" clip-path="url(#c2)"/>
<path d="M50,932.5 H785 M50,719.5 H785" stroke="#b0b0b0" stroke-width="1.11" fill="none"/>
<path d="M48,1145 L55.75,1145 L57.75,1080.85 L62.4,1080.85 L64.4,1043.33 L68.5,1043.33 L70.5,1016.7 L78.75,1016.7 L80.75,996.05 L88.75,996.05 L90.75,979.18 L101.25,979.18 L103.25,964.91 L116.25,964.91 L118.25,952.55 L135,952.55 L137,941.65 L160,941.65 L162,931.9 L188.6,931.9 L190.6,923.08 L235.5,923.08 L237.5,915.03 L267.75,915.03 L269.75,907.62 L288.75,907.62 L290.75,900.76 L305,900.76 L307,894.37 L315,894.37 L317,888.4 L324,888.4 L326,882.79 L335.13,877.5 L337.16,877.5 L339.2,877.5 L341.23,872.5 L343.27,872.5 L345.31,872.5 L347.34,867.75 L349.38,867.75 L351.41,863.24 L353.45,863.24 L355.49,858.93 L357.52,858.93 L359.56,854.82 L361.59,854.82 L363.63,850.88 L365.67,850.88 L367.7,850.88 L369.74,847.1 L371.77,847.1 L373.81,847.1 L375.85,843.47 L377.88,843.47 L379.92,843.47 L381.95,839.98 L383.99,839.98 L386.03,839.98 L388.06,836.61 L390.1,836.61 L392.13,833.36 L394.17,833.36 L396.21,830.23 L398.24,827.19 L400.28,824.25 L402.31,824.25 L404.35,821.4 L406.39,818.64 L408.42,815.96 L410.46,815.96 L412.49,815.96 L414.53,813.35 L416.57,813.35 L418.6,810.82 L420.64,808.35 L422.68,808.35 L424.71,805.94 L426.75,805.94 L428.78,803.6 L430.82,803.6 L432.86,801.32 L434.89,801.32 L436.93,799.09 L438.96,799.09 L441,796.91 L443.04,796.91 L445.07,794.78 L447.11,794.78 L449.14,792.7 L451.18,790.67 L453.22,790.67 L455.25,788.68 L457.29,788.68 L459.32,786.73 L461.36,786.73 L463.4,784.82 L465.43,784.82 L467.47,782.95 L469.5,782.95 L471.54,781.12 L473.58,781.12 L475.61,779.32 L477.65,779.32 L479.68,777.56 L481.72,777.56 L483.76,775.83 L485.79,775.83 L487.83,774.13 L489.86,772.46 L491.9,772.46 L493.94,770.82 L495.97,769.21 L498.01,769.21 L500.04,767.63 L502.08,766.08 L504.12,766.08 L506.15,764.55 L508.19,763.04 L510.22,761.56 L512.26,760.1 L514.3,760.1 L516.33,758.67 L518.37,757.26 L520.4,755.86 L522.44,754.49 L524.48,753.14 L526.51,751.81 L528.55,750.5 L530.58,749.2 L532.62,746.67 L534.66,745.42 L536.69,744.2 L538.73,742.99 L540.76,741.79 L542.8,739.45 L544.84,738.3 L546.87,736.04 L548.91,734.94 L550.94,732.76 L552.98,731.69 L555.02,729.58 L557.05,728.55 L559.09,726.52 L561.12,724.53 L563.16,722.58 L565.2,720.67 L567.23,718.8 L569.27,716.97 L571.3,714.28 L573.34,712.54 L575.38,710.82 L577.41,709.14 L579.45,707.49 L581.48,705.87 L583.52,704.27 L585.56,701.93 L587.59,699.64 L589.63,697.41 L591.66,695.23 L593.7,693.11 L595.74,691.03 L597.77,688.99 L599.81,687 L601.84,685.05 L603.88,683.14 L605.92,681.27 L607.95,679.44 L609.99,677.65 L612.02,675.3 L614.06,673.58 L616.1,671.89 L618.13,670.24 L620.17,668.07 L622.2,666.48 L624.24,664.4 L626.28,662.37 L628.31,660.87 L630.35,659.4 L632.38,657.95 L634.42,656.05 L636.46,654.65 L638.49,653.27 L640.53,651.47 L642.56,650.14 L644.6,648.82 L646.64,647.53 L648.67,646.25 L650.71,644.99 L652.74,643.34 L654.78,642.12 L656.82,641.31 L658.85,640.52 L660.89,639.73 L662.92,638.55 L664.96,637.39 L667,636.63 L669.03,635.49 L671.07,634.74 L673.1,633.63 L675.14,632.9 L677.18,632.17 L679.21,631.44 L681.25,630.37 L683.28,629.66 L685.32,628.96 L687.36,627.91 L689.39,627.22 L691.43,626.53 L693.46,625.52 L695.5,624.84 L697.54,623.84 L699.57,623.18 L701.61,622.52 L703.64,621.87 L705.68,621.23 L707.72,620.58 L709.75,619.94 L711.79,619.31 L713.82,619 L715.86,618.37 L717.9,617.74 L719.93,617.13 L721.97,616.51 L724,615.9 L726.04,615.6 L728,614.99" fill="none" stroke="#1f77b4" stroke-width="2.08" stroke-linejoin="round" clip-path="url(#c2)"/>
<g fill="#ff7f0e" clip-path="url(#c2)">
<circle cx="93.5" cy="1145.5" r="4.86"/>
<circle cx="95.5" cy="1145.5" r="4.86"/>
<circle cx="97.5" cy="1145.5" r="4.86"/>
<circle cx="99.5" cy="1081.5" r="4.86"/>
<circle cx="101.5" cy="1081.5" r="4.86"/>
<circle cx="103.5" cy="1043.5" r="4.86"/>
<circle cx="105.5" cy="1043.5" r="4.86"/>
<circle cx="107.5" cy="1043.5" r="4.86"/>
<circle cx="109.5" cy="1043.5" r="4.86"/>
<circle cx="111.5" cy="1043.5" r="4.86"/>
<circle cx="113.5" cy="996.5" r="4.86"/>
<circle cx="115.5" cy="979.5" r="4.86"/>
<circle cx="117.5" cy="979.5" r="4.86"/>
<circle cx="119.5" cy="979.5" r="4.86"/>
<circle cx="121.5" cy="965.5" r="4.86"/>
<circle cx="123.5" cy="965.5" r="4.86"/>
<circle cx="125.5" cy="965.5" r="4.86"/>
<circle cx="127.5" cy="953.5" r="4.86"/>
<circle cx="129.5" cy="953.5" r="4.86"/>
<circle cx="132.5" cy="953.5" r="4.86"/>
<circle cx="134.5" cy="942.5" r="4.86"/>
<circle cx="136.5" cy="942.5" r="4.86"/>
<circle cx="138.5" cy="942.5" r="4.86"/>
<circle cx="140.5" cy="942.5" r="4.86"/>
<circle cx="142.5" cy="942.5" r="4.86"/>
<circle cx="144.5" cy="942.5" r="4.86"/>
<circle cx="146.5" cy="942.5" r="4.86"/>
<circle cx="148.5" cy="942.5" r="4.86"/>
<circle cx="150.5" cy="942.5" r="4.86"/>
<circle cx="152.5" cy="942.5" r="4.86"/>
<circle cx="154.5" cy="942.5" r="4.86"/>
<circle cx="156.5" cy="942.5" r="4.86"/>
<circle cx="158.5" cy="942.5" r="4.86"/>
<circle cx="160.5" cy="942.5" r="4.86"/>
<circle cx="162.5" cy="942.5" r="4.86"/>
<circle cx="164.5" cy="942.5" r="4.86"/>
<circle cx="166.5" cy="942.5" r="4.86"/>
<circle cx="168.5" cy="942.5" r="4.86"/>
<circle cx="170.5" cy="942.5" r="4.86"/>
<circle cx="172.5" cy="942.5" r="4.86"/>
<circle cx="174.5" cy="942.5" r="4.86"/>
<circle cx="176.5" cy="942.5" r="4.86"/>
<circle cx="178.5" cy="932.5" r="4.86"/>
<circle cx="180.5" cy="932.5" r="4.86"/>
<circle cx="182.5" cy="932.5" r="4.86"/>
<circle cx="184.5" cy="932.5" r="4.86"/>
<circle cx="186.5" cy="932.5" r="4.86"/>
<circle cx="189.5" cy="932.5" r="4.86"/>
<circle cx="191.5" cy="932.5" r="4.86"/>
<circle cx="193.5" cy="932.5" r="4.86"/>
<circle cx="195.5" cy="932.5" r="4.86"/>
<circle cx="197.5" cy="932.5" r="4.86"/>
<circle cx="199.5" cy="932.5" r="4.86"/>
<circle cx="201.5" cy="932.5" r="4.86"/>
<circle cx="203.5" cy="932.5" r="4.86"/>
<circle cx="205.5" cy="932.5" r="4.86"/>
<circle cx="207.5" cy="932.5" r="4.86"/>
<circle cx="209.5" cy="932.5" r="4.86"/>
<circle cx="211.5" cy="932.5" r="4.86"/>
<circle cx="213.5" cy="932.5" r="4.86"/>
<circle cx="215.5" cy="932.5" r="4.86"/>
<circle cx="217.5" cy="932.5" r="4.86"/>
<circle cx="219.5" cy="932.5" r="4.86"/>
<circle cx="221.5" cy="932.5" r="4.86"/>
<circle cx="223.5" cy="932.5" r="4.86"/>
<circle cx="225.5" cy="932.5" r="4.86"/>
<circle cx="227.5" cy="932.5" r="4.86"/>
<circle cx="229.5" cy="932.5" r="4.86"/>
<circle cx="231.5" cy="932.5" r="4.86"/>
<circle cx="233.5" cy="932.5" r="4.86"/>
<circle cx="235.5" cy="932.5" r="4.86"/>
<circle cx="237.5" cy="932.5" r="4.86"/>
<circle cx="239.5" cy="932.5" r="4.86"/>
<circle cx="241.5" cy="932.5" r="4.86"/>
<circle cx="244.5" cy="932.5" r="4.86"/>
<circle cx="246.5" cy="932.5" r="4.86"/>
<circle cx="248.5" cy="923.5" r="4.86"/>
<circle cx="250.5" cy="923.5" r="4.86"/>
<circle cx="252.5" cy="923.5" r="4.86"/>
<circle cx="254.5" cy="915.5" r="4.86"/>
<circle cx="256.5" cy="915.5" r="4.86"/>
<circle cx="258.5" cy="915.5" r="4.86"/>
<circle cx="260.5" cy="915.5" r="4.86"/>
<circle cx="262.5" cy="915.5" r="4.86"/>
<circle cx="264.5" cy="915.5" r="4.86"/>
<circle cx="266.5" cy="915.5" r="4.86"/>
<circle cx="268.5" cy="915.5" r="4.86"/>
<circle cx="270.5" cy="915.5" r="4.86"/>
<circle cx="272.5" cy="915.5" r="4.86"/>
<circle cx="274.5" cy="915.5" r="4.86"/>
<circle cx="276.5" cy="915.5" r="4.86"/>
<circle cx="278.5" cy="915.5" r="4.86"/>
<circle cx="280.5" cy="915.5" r="4.86"/>
<circle cx="282.5" cy="901.5" r="4.86"/>
<circle cx="284.5" cy="901.5" r="4.86"/>
<circle cx="286.5" cy="901.5" r="4.86"/>
<circle cx="288.5" cy="901.5" r="4.86"/>
<circle cx="290.5" cy="901.5" r="4.86"/>
<circle cx="292.5" cy="901.5" r="4.86"/>
<circle cx="294.5" cy="901.5" r="4.86"/>
<circle cx="296.5" cy="894.5" r="4.86"/>
<circle cx="298.5" cy="888.5" r="4.86"/>
<circle cx="301.5" cy="888.5" r="4.86"/>
<circle cx="303.5" cy="888.5" r="4.86"/>
<circle cx="305.5" cy="883.5" r="4.86"/>
<circle cx="307.5" cy="883.5" r="4.86"/>
<circle cx="309.5" cy="883.5" r="4.86"/>
<circle cx="311.5" cy="883.5" r="4.86"/>
<circle cx="313.5" cy="883.5" r="4.86"/>
<circle cx="315.5" cy="883.5" r="4.86"/>
<circle cx="317.5" cy="883.5" r="4.86"/>
<circle cx="319.5" cy="883.5" r="4.86"/>
<circle cx="321.5" cy="883.5" r="4.86"/>
<circle cx="323.5" cy="883.5" r="4.86"/>
<circle cx="325.5" cy="883.5" r="4.86"/>
<circle cx="327.5" cy="878.5" r="4.86"/>
<circle cx="329.5" cy="878.5" r="4.86"/>
<circle cx="331.5" cy="878.5" r="4.86"/>
<circle cx="333.5" cy="878.5" r="4.86"/>
<circle cx="335.5" cy="872.5" r="4.86"/>
<circle cx="337.5" cy="872.5" r="4.86"/>
<circle cx="339.5" cy="872.5" r="4.86"/>
<circle cx="341.5" cy="868.5" r="4.86"/>
<circle cx="343.5" cy="863.5" r="4.86"/>
<circle cx="345.5" cy="859.5" r="4.86"/>
<circle cx="347.5" cy="855.5" r="4.86"/>
<circle cx="349.5" cy="855.5" r="4.86"/>
<circle cx="351.5" cy="851.5" r="4.86"/>
<circle cx="353.5" cy="851.5" r="4.86"/>
<circle cx="355.5" cy="847.5" r="4.86"/>
<circle cx="358.5" cy="847.5" r="4.86"/>
<circle cx="360.5" cy="847.5" r="4.86"/>
<circle cx="362.5" cy="847.5" r="4.86"/>
<circle cx="364.5" cy="847.5" r="4.86"/>
<circle cx="366.5" cy="847.5" r="4.86"/>
<circle cx="368.5" cy="847.5" r="4.86"/>
<circle cx="370.5" cy="843.5" r="4.86"/>
<circle cx="372.5" cy="843.5" r="4.86"/>
<circle cx="374.5" cy="843.5" r="4.86"/>
<circle cx="376.5" cy="843.5" r="4.86"/>
<circle cx="378.5" cy="840.5" r="4.86"/>
<circle cx="380.5" cy="840.5" r="4.86"/>
<circle cx="382.5" cy="837.5" r="4.86"/>
<circle cx="384.5" cy="837.5" r="4.86"/>
<circle cx="386.5" cy="837.5" r="4.86"/>
<circle cx="388.5" cy="837.5" r="4.86"/>
<circle cx="390.5" cy="837.5" r="4.86"/>
<circle cx="392.5" cy="833.5" r="4.86"/>
<circle cx="394.5" cy="833.5" r="4.86"/>
<circle cx="396.5" cy="830.5" r="4.86"/>
<circle cx="398.5" cy="827.5" r="4.86"/>
<circle cx="400.5" cy="824.5" r="4.86"/>
<circle cx="402.5" cy="824.5" r="4.86"/>
<circle cx="404.5" cy="813.5" r="4.86"/>
<circle cx="406.5" cy="813.5" r="4.86"/>
<circle cx="408.5" cy="813.5" r="4.86"/>
<circle cx="410.5" cy="813.5" r="4.86"/>
<circle cx="412.5" cy="813.5" r="4.86"/>
<circle cx="415.5" cy="813.5" r="4.86"/>
<circle cx="417.5" cy="811.5" r="4.86"/>
<circle cx="419.5" cy="806.5" r="4.86"/>
<circle cx="421.5" cy="806.5" r="4.86"/>
<circle cx="423.5" cy="804.5" r="4.86"/>
<circle cx="425.5" cy="804.5" r="4.86"/>
<circle cx="427.5" cy="801.5" r="4.86"/>
<circle cx="429.5" cy="799.5" r="4.86"/>
<circle cx="431.5" cy="799.5" r="4.86"/>
<circle cx="433.5" cy="799.5" r="4.86"/>
<circle cx="435.5" cy="799.5" r="4.86"/>
<circle cx="437.5" cy="799.5" r="4.86"/>
<circle cx="439.5" cy="797.5" r="4.86"/>
<circle cx="441.5" cy="797.5" r="4.86"/>
<circle cx="443.5" cy="793.5" r="4.86"/>
<circle cx="445.5" cy="793.5" r="4.86"/>
<circle cx="447.5" cy="793.5" r="4.86"/>
<circle cx="449.5" cy="793.5" r="4.86"/>
<circle cx="451.5" cy="793.5" r="4.86"/>
<circle cx="453.5" cy="793.5" r="4.86"/>
<circle cx="455.5" cy="793.5" r="4.86"/>
<circle cx="457.5" cy="793.5" r="4.86"/>
<circle cx="459.5" cy="793.5" r="4.86"/>
<circle cx="461.5" cy="791.5" r="4.86"/>
<circle cx="463.5" cy="791.5" r="4.86"/>
<circle cx="465.5" cy="791.5" r="4.86"/>
<circle cx="467.5" cy="779.5" r="4.86"/>
<circle cx="470.5" cy="776.5" r="4.86"/>
<circle cx="472.5" cy="772.5" r="4.86"/>
<circle cx="474.5" cy="771.5" r="4.86"/>
<circle cx="476.5" cy="771.5" r="4.86"/>
<circle cx="478.5" cy="769.5" r="4.86"/>
<circle cx="480.5" cy="769.5" r="4.86"/>
<circle cx="482.5" cy="769.5" r="4.86"/>
<circle cx="484.5" cy="768.5" r="4.86"/>
<circle cx="486.5" cy="768.5" r="4.86"/>
<circle cx="488.5" cy="766.5" r="4.86"/>
<circle cx="490.5" cy="766.5" r="4.86"/>
<circle cx="492.5" cy="765.5" r="4.86"/>
<circle cx="494.5" cy="765.5" r="4.86"/>
<circle cx="496.5" cy="765.5" r="4.86"/>
<circle cx="498.5" cy="765.5" r="4.86"/>
<circle cx="500.5" cy="765.5" r="4.86"/>
<circle cx="502.5" cy="765.5" r="4.86"/>
<circle cx="504.5" cy="763.5" r="4.86"/>
<circle cx="506.5" cy="759.5" r="4.86"/>
<circle cx="508.5" cy="757.5" r="4.86"/>
<circle cx="510.5" cy="756.5" r="4.86"/>
<circle cx="512.5" cy="756.5" r="4.86"/>
<circle cx="514.5" cy="756.5" r="4.86"/>
<circle cx="516.5" cy="756.5" r="4.86"/>
<circle cx="518.5" cy="754.5" r="4.86"/>
<circle cx="520.5" cy="754.5" r="4.86"/>
<circle cx="522.5" cy="754.5" r="4.86"/>
<circle cx="524.5" cy="754.5" r="4.86"/>
<circle cx="527.5" cy="754.5" r="4.86"/>
<circle cx="529.5" cy="754.5" r="4.86"/>
<circle cx="531.5" cy="753.5" r="4.86"/>
<circle cx="533.5" cy="753.5" r="4.86"/>
<circle cx="535.5" cy="753.5" r="4.86"/>
<circle cx="537.5" cy="749.5" r="4.86"/>
<circle cx="539.5" cy="741.5" r="4.86"/>
<circle cx="541.5" cy="738.5" r="4.86"/>
<circle cx="543.5" cy="736.5" r="4.86"/>
<circle cx="545.5" cy="734.5" r="4.86"/>
<circle cx="547.5" cy="734.5" r="4.86"/>
<circle cx="549.5" cy="734.5" r="4.86"/>
<circle cx="551.5" cy="733.5" r="4.86"/>
<circle cx="553.5" cy="733.5" r="4.86"/>
<circle cx="555.5" cy="733.5" r="4.86"/>
<circle cx="557.5" cy="733.5" r="4.86"/>
<circle cx="559.5" cy="733.5" r="4.86"/>
<circle cx="561.5" cy="724.5" r="4.86"/>
<circle cx="563.5" cy="723.5" r="4.86"/>
<circle cx="565.5" cy="721.5" r="4.86"/>
<circle cx="567.5" cy="720.5" r="4.86"/>
<circle cx="569.5" cy="719.5" r="4.86"/>
<circle cx="571.5" cy="718.5" r="4.86"/>
<circle cx="573.5" cy="717.5" r="4.86"/>
<circle cx="575.5" cy="716.5" r="4.86"/>
<circle cx="577.5" cy="715.5" r="4.86"/>
<circle cx="579.5" cy="714.5" r="4.86"/>
<circle cx="581.5" cy="713.5" r="4.86"/>
<circle cx="584.5" cy="713.5" r="4.86"/>
<circle cx="586.5" cy="713.5" r="4.86"/>
<circle cx="588.5" cy="712.5" r="4.86"/>
<circle cx="590.5" cy="700.5" r="4.86"/>
<circle cx="592.5" cy="697.5" r="4.86"/>
<circle cx="594.5" cy="695.5" r="4.86"/>
<circle cx="596.5" cy="693.5" r="4.86"/>
<circle cx="598.5" cy="692.5" r="4.86"/>
<circle cx="600.5" cy="690.5" r="4.86"/>
<circle cx="602.5" cy="690.5" r="4.86"/>
<circle cx="604.5" cy="689.5" r="4.86"/>
<circle cx="606.5" cy="688.5" r="4.86"/>
<circle cx="608.5" cy="683.5" r="4.86"/>
<circle cx="610.5" cy="675.5" r="4.86"/>
<circle cx="612.5" cy="672.5" r="4.86"/>
<circle cx="614.5" cy="671.5" r="4.86"/>
<circle cx="616.5" cy="669.5" r="4.86"/>
<circle cx="618.5" cy="667.5" r="4.86"/>
<circle cx="620.5" cy="665.5" r="4.86"/>
<circle cx="622.5" cy="662.5" r="4.86"/>
<circle cx="624.5" cy="659.5" r="4.86"/>
<circle cx="626.5" cy="650.5" r="4.86"/>
<circle cx="628.5" cy="648.5" r="4.86"/>
<circle cx="630.5" cy="647.5" r="4.86"/>
<circle cx="632.5" cy="645.5" r="4.86"/>
<circle cx="634.5" cy="644.5" r="4.86"/>
<circle cx="636.5" cy="643.5" r="4.86"/>
<circle cx="638.5" cy="643.5" r="4.86"/>
<circle cx="641.5" cy="642.5" r="4.86"/>
<circle cx="643.5" cy="641.5" r="4.86"/>
<circle cx="645.5" cy="641.5" r="4.86"/>
<circle cx="647.5" cy="641.5" r="4.86"/>
<circle cx="649.5" cy="639.5" r="4.86"/>
<circle cx="651.5" cy="637.5" r="4.86"/>
<circle cx="653.5" cy="637.5" r="4.86"/>
<circle cx="655.5" cy="637.5" r="4.86"/>
<circle cx="657.5" cy="637.5" r="4.86"/>
<circle cx="659.5" cy="636.5" r="4.86"/>
<circle cx="661.5" cy="636.5" r="4.86"/>
<circle cx="663.5" cy="635.5" r="4.86"/>
<circle cx="665.5" cy="635.5" r="4.86"/>
<circle cx="667.5" cy="634.5" r="4.86"/>
<circle cx="669.5" cy="632.5" r="4.86"/>
<circle cx="671.5" cy="629.5" r="4.86"/>
<circle cx="673.5" cy="628.5" r="4.86"/>
<circle cx="675.5" cy="627.5" r="4.86"/>
<circle cx="677.5" cy="626.5" r="4.86"/>
<circle cx="679.5" cy="626.5" r="4.86"/>
<circle cx="681.5" cy="625.5" r="4.86"/>
<circle cx="683.5" cy="625.5" r="4.86"/>
<circle cx="685.5" cy="624.5" r="4.86"/>
<circle cx="687.5" cy="624.5" r="4.86"/>
<circle cx="689.5" cy="624.5" r="4.86"/>
<circle cx="691.5" cy="623.5" r="4.86"/>
<circle cx="693.5" cy="623.5" r="4.86"/>
<circle cx="696.5" cy="622.5" r="4.86"/>
<circle cx="698.5" cy="622.5" r="4.86"/>
<circle cx="700.5" cy="622.5" r="4.86"/>
<circle cx="702.5" cy="621.5" r="4.86"/>
<circle cx="704.5" cy="621.5" r="4.86"/>
<circle cx="706.5" cy="620.5" r="4.86"/>
<circle cx="708.5" cy="620.5" r="4.86"/>
<circle cx="710.5" cy="619.5" r="4.86"/>
<circle cx="712.5" cy="619.5" r="4.86"/>
<circle cx="714.5" cy="618.5" r="4.86"/>
<circle cx="716.5" cy="618.5" r="4.86"/>
<circle cx="718.5" cy="617.5" r="4.86"/>
<circle cx="720.5" cy="616.5" r="4.86"/>
<circle cx="722.5" cy="615.5" r="4.86"/>
<circle cx="724.5" cy="614.5" r="4.86"/>
<circle cx="726.5" cy="614.5" r="4.86"/>
<circle cx="728.5" cy="614.5" r="4.86"/>
<circle cx="730.5" cy="613.5" r="4.86"/>
<circle cx="732.5" cy="613.5" r="4.86"/>
<circle cx="734.5" cy="612.5" r="4.86"/>
<circle cx="736.5" cy="611.5" r="4.86"/>
<circle cx="738.5" cy="611.5" r="4.86"/>
<circle cx="740.5" cy="611.5" r="4.86"/>
<circle cx="742.5" cy="611.5" r="4.86"/>
<circle cx="744.5" cy="611.5" r="4.86"/>
<circle cx="746.5" cy="611.5" r="4.86"/>
<circle cx="748.5" cy="611.5" r="4.86"/>
<circle cx="750.5" cy="611.5" r="4.86"/>
<circle cx="753.5" cy="611.5" r="4.86"/>
<circle cx="755.5" cy="611.5" r="4.86"/>
<circle cx="757.5" cy="611.5" r="4.86"/>
<circle cx="759.5" cy="610.5" r="4.86"/>
<circle cx="761.5" cy="609.5" r="4.86"/>
<circle cx="763.5" cy="609.5" r="4.86"/>
<circle cx="765.5" cy="608.5" r="4.86"/>
<circle cx="767.5" cy="608.5" r="4.86"/>
<circle cx="769.5" cy="607.5" r="4.86"/>
<circle cx="771.5" cy="607.5" r="4.86"/>
<circle cx="773.5" cy="607.5" r="4.86"/>
<circle cx="775.5" cy="607.5" r="4.86"/>
<circle cx="777.5" cy="607.5" r="4.86"/>
<circle cx="779.5" cy="607.5" r="4.86"/>
<circle cx="781.5" cy="606.5" r="4.86"/>
<circle cx="783.5" cy="606.5" r="4.86"/>
<circle cx="785.5" cy="606.5" r="4.86"/>
</g>
<path d="M728,1145 V593" stroke="#1f77b4" stroke-opacity=".5" stroke-width="2.08" stroke-dasharray="7.71 3.33" fill="none"/>
<path d="M50.5,1145.5 v4.86 M107.5,1145.5 v4.86 M168.5,1145.5 v4.86 M231.5,1145.5 v4.86 M292.5,1145.5 v4.86 M355.5,1145.5 v4.86 M419.5,1145.5 v4.86 M480.5,1145.5 v4.86 M543.5,1145.5 v4.86 M604.5,1145.5 v4.86 M667.5,1145.5 v4.86 M730.5,1145.5 v4.86 M785.5,1145.5 v4.86 M50.5,1145.5 h-4.86 M50.5,932.5 h-4.86 M50.5,719.5 h-4.86" stroke="#000" stroke-width="1.11" fill="none"/>
<path d="M60.5,1145.5 v2.78 M75.5,1145.5 v2.78 M89.5,1145.5 v2.78 M103.5,1145.5 v2.78 M117.5,1145.5 v2.78 M132.5,1145.5 v2.78 M146.5,1145.5 v2.78 M160.5,1145.5 v2.78 M174.5,1145.5 v2.78 M189.5,1145.5 v2.78 M203.5,1145.5 v2.78 M217.5,1145.5 v2.78 M231.5,1145.5 v2.78 M246.5,1145.5 v2.78 M260.5,1145.5 v2.78 M274.5,1145.5 v2.78 M288.5,1145.5 v2.78 M303.5,1145.5 v2.78 M317.5,1145.5 v2.78 M331.5,1145.5 v2.78 M345.5,1145.5 v2.78 M360.5,1145.5 v2.78 M374.5,1145.5 v2.78 M388.5,1145.5 v2.78 M402.5,1145.5 v2.78 M417.5,1145.5 v2.78 M431.5,1145.5 v2.78 M445.5,1145.5 v2.78 M459.5,1145.5 v2.78 M474.5,1145.5 v2.78 M488.5,1145.5 v2.78 M502.5,1145.5 v2.78 M516.5,1145.5 v2.78 M531.5,1145.5 v2.78 M545.5,1145.5 v2.78 M559.5,1145.5 v2.78 M573.5,1145.5 v2.78 M588.5,1145.5 v2.78 M602.5,1145.5 v2.78 M616.5,1145.5 v2.78 M630.5,1145.5 v2.78 M645.5,1145.5 v2.78 M659.5,1145.5 v2.78 M673.5,1145.5 v2.78 M687.5,1145.5 v2.78 M702.5,1145.5 v2.78 M716.5,1145.5 v2.78 M730.5,1145.5 v2.78 M744.5,1145.5 v2.78 M759.5,1145.5 v2.78 M773.5,1145.5 v2.78 M50.5,1081.5 h-2.78 M50.5,1043.5 h-2.78 M50.5,1017.5 h-2.78 M50.5,996.5 h-2.78 M50.5,979.5 h-2.78 M50.5,965.5 h-2.78 M50.5,953.5 h-2.78 M50.5,942.5 h-2.78 M50.5,868.5 h-2.78 M50.5,830.5 h-2.78 M50.5,804.5 h-2.78 M50.5,783.5 h-2.78 M50.5,766.5 h-2.78 M50.5,752.5 h-2.78 M50.5,739.5 h-2.78 M50.5,729.5 h-2.78 M50.5,655.5 h-2.78 M50.5,617.5 h-2.78" stroke="#000" stroke-width=".83" fill="none"/>
<rect x="50.5" y="593.5" width="735" height="552" fill="none" stroke="#000" stroke-width="1.11"/>
<rect x="57.5" y="600.5" width="97" height="25" rx="2.78" fill="#fff" fill-opacity=".8" stroke="#ccc" stroke-opacity=".8" stroke-width="1.39"/>
<path d="M61.96,612 H91.04" stroke="#1f77b4" stroke-width="2.08" fill="none"/>
<text x="102.2" y="616" font-size="14" textLength="46" lengthAdjust="spacingAndGlyphs">deaths</text>
<g filter="url(#gs)">
<text x="334" y="35.6" font-size="17" textLength="125.4" lengthAdjust="spacingAndGlyphs">Alaska 28 days</text>
<text x="16.9" y="113" font-size="14" textLength="15.6" lengthAdjust="spacingAndGlyphs">10</text>
<text x="33" y="108" font-size="11" textLength="6.1" lengthAdjust="spacingAndGlyphs">4</text>
<text x="16.9" y="228" font-size="14" textLength="15.6" lengthAdjust="spacingAndGlyphs">10</text>
<text x="33" y="223" font-size="11" textLength="6.1" lengthAdjust="spacingAndGlyphs">3</text>
<text x="16.9" y="343" font-size="14" textLength="15.6" lengthAdjust="spacingAndGlyphs">10</text>
<text x="33" y="338" font-size="11" textLength="6.1" lengthAdjust="spacingAndGlyphs">2</text>
<text x="16.9" y="459" font-size="14" textLength="15.6" lengthAdjust="spacingAndGlyphs">10</text>
<text x="33" y="454" font-size="11" textLength="6.1" lengthAdjust="spacingAndGlyphs">1</text>
<text x="16.9" y="574" font-size="14" textLength="15.6" lengthAdjust="spacingAndGlyphs">10</text>
<text x="33" y="569" font-size="11" textLength="6.1" lengthAdjust="spacingAndGlyphs">0</text>
<text x="16.9" y="726" font-size="14" textLength="15.6" lengthAdjust="spacingAndGlyphs">10</text>
<text x="33" y="721" font-size="11" textLength="6.1" lengthAdjust="spacingAndGlyphs">2</text>
<text x="16.9" y="939" font-size="14" textLength="15.6" lengthAdjust="spacingAndGlyphs">10</text>
<text x="33" y="934" font-size="11" textLength="6.1" lengthAdjust="spacingAndGlyphs">1</text>
<text x="16.9" y="1152" font-size="14" textLength="15.6" lengthAdjust="spacingAndGlyphs">10</text>
<text x="33" y="1147" font-size="11" textLength="6.1" lengthAdjust="spacingAndGlyphs">0</text>
<text x="94.4" y="1166" font-size="14" textLength="24.2" lengthAdjust="spacingAndGlyphs">Apr</text>
<text x="154.4" y="1166" font-size="14" textLength="27.2" lengthAdjust="spacingAndGlyphs">May</text>
<text x="219.4" y="1166" font-size="14" textLength="22.2" lengthAdjust="spacingAndGlyphs">Jun</text>
<text x="282.4" y="1166" font-size="14" textLength="16.2" lengthAdjust="spacingAndGlyphs">Jul</text>
<text x="341.4" y="1166" font-size="14" textLength="26.2" lengthAdjust="spacingAndGlyphs">Aug</text>
<text x="406.4" y="1166" font-size="14" textLength="24.2" lengthAdjust="spacingAndGlyphs">Sep</text>
<text x="468.4" y="1166" font-size="14" textLength="23.2" lengthAdjust="spacingAndGlyphs">Oct</text>
<text x="530.4" y="1166" font-size="14" textLength="26.2" lengthAdjust="spacingAndGlyphs">Nov</text>
<text x="591.4" y="1166" font-size="14" textLength="25.2" lengthAdjust="spacingAndGlyphs">Dec</text>
<text x="655.4" y="1166" font-size="14" textLength="21.2" lengthAdjust="spacingAndGlyphs">Jan</text>
<text x="718.4" y="1166" font-size="14" textLength="23.2" lengthAdjust="spacingAndGlyphs">Feb</text>
<text x="650" y="1182" font-size="14" textLength="33" lengthAdjust="spacingAndGlyphs">2021</text>
</g>
</svg></body></html>
